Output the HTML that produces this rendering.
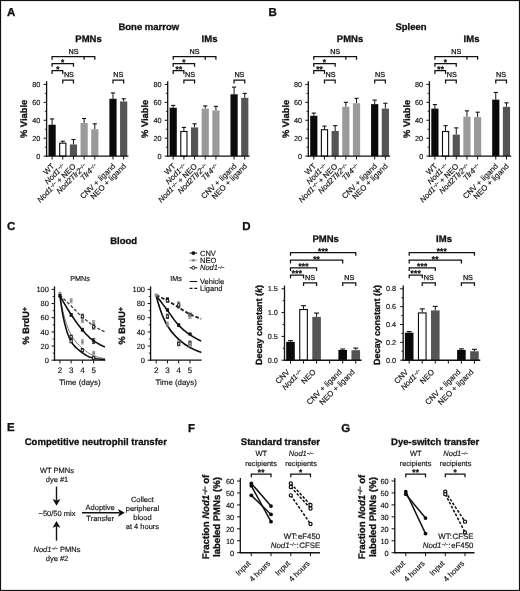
<!DOCTYPE html>
<html><head><meta charset="utf-8"><title>Figure</title>
<style>
html,body{margin:0;padding:0;background:#fff;}
body{width:520px;height:591px;overflow:hidden;font-family:"Liberation Sans",sans-serif;}
svg{display:block;will-change:transform;}
svg text{text-rendering:geometricPrecision;}
</style></head><body>
<svg width="520" height="591" viewBox="0 0 520 591" font-family="'Liberation Sans', sans-serif">
<rect x="0" y="0" width="520" height="591" fill="#fff"/>
<rect x="0.55" y="0.55" width="518.9" height="589.9" fill="none" stroke="#111" stroke-width="1.1"/>
<text x="7.00" y="16.40" font-size="11.5" text-anchor="start" font-weight="bold" font-style="normal" fill="#111" stroke="#111" stroke-width="0.3">A</text>
<text x="148.80" y="30.40" font-size="9.5" text-anchor="middle" font-weight="bold" font-style="normal" fill="#111" stroke="#111" stroke-width="0.3">Bone marrow</text>
<line x1="52.10" y1="124.74" x2="52.10" y2="118.92" stroke="#111" stroke-width="1.0" stroke-linecap="butt"/>
<line x1="50.00" y1="118.92" x2="54.20" y2="118.92" stroke="#111" stroke-width="1.1" stroke-linecap="butt"/>
<line x1="62.78" y1="142.66" x2="62.78" y2="141.23" stroke="#111" stroke-width="1.0" stroke-linecap="butt"/>
<line x1="60.68" y1="141.23" x2="64.88" y2="141.23" stroke="#111" stroke-width="1.1" stroke-linecap="butt"/>
<line x1="73.46" y1="144.45" x2="73.46" y2="139.52" stroke="#111" stroke-width="1.0" stroke-linecap="butt"/>
<line x1="71.36" y1="139.52" x2="75.56" y2="139.52" stroke="#111" stroke-width="1.1" stroke-linecap="butt"/>
<line x1="84.14" y1="122.95" x2="84.14" y2="118.47" stroke="#111" stroke-width="1.0" stroke-linecap="butt"/>
<line x1="82.04" y1="118.47" x2="86.24" y2="118.47" stroke="#111" stroke-width="1.1" stroke-linecap="butt"/>
<line x1="94.82" y1="129.22" x2="94.82" y2="123.84" stroke="#111" stroke-width="1.0" stroke-linecap="butt"/>
<line x1="92.72" y1="123.84" x2="96.92" y2="123.84" stroke="#111" stroke-width="1.1" stroke-linecap="butt"/>
<line x1="112.98" y1="98.76" x2="112.98" y2="92.93" stroke="#111" stroke-width="1.0" stroke-linecap="butt"/>
<line x1="110.88" y1="92.93" x2="115.08" y2="92.93" stroke="#111" stroke-width="1.1" stroke-linecap="butt"/>
<line x1="123.66" y1="101.44" x2="123.66" y2="98.76" stroke="#111" stroke-width="1.0" stroke-linecap="butt"/>
<line x1="121.56" y1="98.76" x2="125.76" y2="98.76" stroke="#111" stroke-width="1.1" stroke-linecap="butt"/>
<rect x="48.50" y="124.74" width="7.20" height="31.36" fill="#0a0a0a" stroke="none" stroke-width="1.0"/>
<rect x="59.68" y="143.16" width="6.20" height="12.94" fill="#fff" stroke="#0a0a0a" stroke-width="1.1"/>
<rect x="69.86" y="144.45" width="7.20" height="11.65" fill="#555555" stroke="none" stroke-width="1.0"/>
<rect x="80.54" y="122.95" width="7.20" height="33.15" fill="#9a9a9a" stroke="none" stroke-width="1.0"/>
<rect x="91.22" y="129.22" width="7.20" height="26.88" fill="#9a9a9a" stroke="none" stroke-width="1.0"/>
<rect x="109.38" y="98.76" width="7.20" height="57.34" fill="#0a0a0a" stroke="none" stroke-width="1.0"/>
<rect x="120.06" y="101.44" width="7.20" height="54.66" fill="#555555" stroke="none" stroke-width="1.0"/>
<line x1="46.00" y1="156.10" x2="128.46" y2="156.10" stroke="#111" stroke-width="1.4" stroke-linecap="butt"/>
<line x1="52.10" y1="156.10" x2="52.10" y2="159.50" stroke="#111" stroke-width="1.0" stroke-linecap="butt"/>
<line x1="62.78" y1="156.10" x2="62.78" y2="159.50" stroke="#111" stroke-width="1.0" stroke-linecap="butt"/>
<line x1="73.46" y1="156.10" x2="73.46" y2="159.50" stroke="#111" stroke-width="1.0" stroke-linecap="butt"/>
<line x1="84.14" y1="156.10" x2="84.14" y2="159.50" stroke="#111" stroke-width="1.0" stroke-linecap="butt"/>
<line x1="94.82" y1="156.10" x2="94.82" y2="159.50" stroke="#111" stroke-width="1.0" stroke-linecap="butt"/>
<line x1="112.98" y1="156.10" x2="112.98" y2="159.50" stroke="#111" stroke-width="1.0" stroke-linecap="butt"/>
<line x1="123.66" y1="156.10" x2="123.66" y2="159.50" stroke="#111" stroke-width="1.0" stroke-linecap="butt"/>
<line x1="46.60" y1="156.70" x2="46.60" y2="81.22" stroke="#111" stroke-width="1.3" stroke-linecap="butt"/>
<line x1="43.60" y1="156.10" x2="46.60" y2="156.10" stroke="#111" stroke-width="1.0" stroke-linecap="butt"/>
<text x="40.40" y="158.73" font-size="7.3" text-anchor="end" font-weight="normal" font-style="normal" fill="#111" stroke="#111" stroke-width="0.15">0</text>
<line x1="44.80" y1="147.14" x2="46.60" y2="147.14" stroke="#111" stroke-width="0.9" stroke-linecap="butt"/>
<line x1="43.60" y1="138.18" x2="46.60" y2="138.18" stroke="#111" stroke-width="1.0" stroke-linecap="butt"/>
<text x="40.40" y="140.81" font-size="7.3" text-anchor="end" font-weight="normal" font-style="normal" fill="#111" stroke="#111" stroke-width="0.15">20</text>
<line x1="44.80" y1="129.22" x2="46.60" y2="129.22" stroke="#111" stroke-width="0.9" stroke-linecap="butt"/>
<line x1="43.60" y1="120.26" x2="46.60" y2="120.26" stroke="#111" stroke-width="1.0" stroke-linecap="butt"/>
<text x="40.40" y="122.89" font-size="7.3" text-anchor="end" font-weight="normal" font-style="normal" fill="#111" stroke="#111" stroke-width="0.15">40</text>
<line x1="44.80" y1="111.30" x2="46.60" y2="111.30" stroke="#111" stroke-width="0.9" stroke-linecap="butt"/>
<line x1="43.60" y1="102.34" x2="46.60" y2="102.34" stroke="#111" stroke-width="1.0" stroke-linecap="butt"/>
<text x="40.40" y="104.97" font-size="7.3" text-anchor="end" font-weight="normal" font-style="normal" fill="#111" stroke="#111" stroke-width="0.15">60</text>
<line x1="44.80" y1="93.38" x2="46.60" y2="93.38" stroke="#111" stroke-width="0.9" stroke-linecap="butt"/>
<line x1="43.60" y1="84.42" x2="46.60" y2="84.42" stroke="#111" stroke-width="1.0" stroke-linecap="butt"/>
<text x="40.40" y="87.05" font-size="7.3" text-anchor="end" font-weight="normal" font-style="normal" fill="#111" stroke="#111" stroke-width="0.15">80</text>
<text x="55.00" y="166.70" font-size="7.8" text-anchor="end" font-weight="normal" font-style="normal" fill="#111" transform="rotate(-45 55.00 166.70)" stroke="#111" stroke-width="0.15">WT</text>
<text x="65.68" y="166.70" font-size="7.8" text-anchor="end" font-weight="normal" font-style="normal" fill="#111" transform="rotate(-45 65.68 166.70)" stroke="#111" stroke-width="0.15"><tspan font-style="italic">Nod1</tspan><tspan font-style="italic" font-size="60%" dy="-0.42em">−/−</tspan></text>
<text x="76.36" y="166.70" font-size="7.8" text-anchor="end" font-weight="normal" font-style="normal" fill="#111" transform="rotate(-45 76.36 166.70)" stroke="#111" stroke-width="0.15"><tspan font-style="italic">Nod1</tspan><tspan font-style="italic" font-size="60%" dy="-0.42em">−/−</tspan><tspan dy="0.25em"> + NEO</tspan></text>
<text x="87.04" y="166.70" font-size="7.8" text-anchor="end" font-weight="normal" font-style="normal" fill="#111" transform="rotate(-45 87.04 166.70)" stroke="#111" stroke-width="0.15"><tspan font-style="italic">Nod2Tlr2</tspan><tspan font-style="italic" font-size="60%" dy="-0.42em">−/−</tspan></text>
<text x="97.72" y="166.70" font-size="7.8" text-anchor="end" font-weight="normal" font-style="normal" fill="#111" transform="rotate(-45 97.72 166.70)" stroke="#111" stroke-width="0.15"><tspan font-style="italic">Tlr4</tspan><tspan font-style="italic" font-size="60%" dy="-0.42em">−/−</tspan></text>
<text x="115.88" y="166.70" font-size="7.8" text-anchor="end" font-weight="normal" font-style="normal" fill="#111" transform="rotate(-45 115.88 166.70)" stroke="#111" stroke-width="0.15">CNV + ligand</text>
<text x="126.56" y="166.70" font-size="7.8" text-anchor="end" font-weight="normal" font-style="normal" fill="#111" transform="rotate(-45 126.56 166.70)" stroke="#111" stroke-width="0.15">NEO + ligand</text>
<text x="27.10" y="118.86" font-size="9.4" text-anchor="middle" font-weight="bold" font-style="normal" fill="#111" transform="rotate(-90 27.10 118.86)" stroke="#111" stroke-width="0.3">% Viable</text>
<text x="88.50" y="42.30" font-size="9.5" text-anchor="middle" font-weight="bold" font-style="normal" fill="#111" stroke="#111" stroke-width="0.3">PMNs</text>
<path d="M52.10,59.80 L52.10,56.60 L94.82,56.60 L94.82,59.80" stroke="#111" stroke-width="1.25" fill="none" stroke-linejoin="miter"/>
<line x1="84.14" y1="56.60" x2="84.14" y2="59.80" stroke="#111" stroke-width="1.25" stroke-linecap="butt"/>
<text x="73.46" y="53.50" font-size="7.2" text-anchor="middle" font-weight="normal" font-style="normal" fill="#111" stroke="#111" stroke-width="0.25">NS</text>
<path d="M52.10,66.80 L52.10,63.60 L73.46,63.60 L73.46,66.80" stroke="#111" stroke-width="1.25" fill="none" stroke-linejoin="miter"/>
<text x="62.78" y="65.00" font-size="8.2" text-anchor="middle" font-weight="bold" font-style="normal" fill="#111" letter-spacing="0.25" stroke="#111" stroke-width="0.3">*</text>
<path d="M52.10,73.90 L52.10,70.70 L62.78,70.70 L62.78,73.90" stroke="#111" stroke-width="1.25" fill="none" stroke-linejoin="miter"/>
<text x="57.94" y="72.10" font-size="8.2" text-anchor="middle" font-weight="bold" font-style="normal" fill="#111" letter-spacing="0.25" stroke="#111" stroke-width="0.3">*</text>
<path d="M62.78,83.40 L62.78,80.20 L73.46,80.20 L73.46,83.40" stroke="#111" stroke-width="1.25" fill="none" stroke-linejoin="miter"/>
<text x="68.92" y="77.10" font-size="7.2" text-anchor="middle" font-weight="normal" font-style="normal" fill="#111" stroke="#111" stroke-width="0.25">NS</text>
<path d="M112.98,83.40 L112.98,80.20 L123.66,80.20 L123.66,83.40" stroke="#111" stroke-width="1.25" fill="none" stroke-linejoin="miter"/>
<text x="118.32" y="77.10" font-size="7.2" text-anchor="middle" font-weight="normal" font-style="normal" fill="#111" stroke="#111" stroke-width="0.25">NS</text>
<line x1="173.20" y1="107.72" x2="173.20" y2="105.39" stroke="#111" stroke-width="1.0" stroke-linecap="butt"/>
<line x1="171.10" y1="105.39" x2="175.30" y2="105.39" stroke="#111" stroke-width="1.1" stroke-linecap="butt"/>
<line x1="183.88" y1="131.01" x2="183.88" y2="127.43" stroke="#111" stroke-width="1.0" stroke-linecap="butt"/>
<line x1="181.78" y1="127.43" x2="185.98" y2="127.43" stroke="#111" stroke-width="1.1" stroke-linecap="butt"/>
<line x1="194.56" y1="127.43" x2="194.56" y2="123.84" stroke="#111" stroke-width="1.0" stroke-linecap="butt"/>
<line x1="192.46" y1="123.84" x2="196.66" y2="123.84" stroke="#111" stroke-width="1.1" stroke-linecap="butt"/>
<line x1="205.24" y1="108.61" x2="205.24" y2="105.92" stroke="#111" stroke-width="1.0" stroke-linecap="butt"/>
<line x1="203.14" y1="105.92" x2="207.34" y2="105.92" stroke="#111" stroke-width="1.1" stroke-linecap="butt"/>
<line x1="215.92" y1="110.40" x2="215.92" y2="106.37" stroke="#111" stroke-width="1.0" stroke-linecap="butt"/>
<line x1="213.82" y1="106.37" x2="218.02" y2="106.37" stroke="#111" stroke-width="1.1" stroke-linecap="butt"/>
<line x1="234.08" y1="94.28" x2="234.08" y2="87.11" stroke="#111" stroke-width="1.0" stroke-linecap="butt"/>
<line x1="231.98" y1="87.11" x2="236.18" y2="87.11" stroke="#111" stroke-width="1.1" stroke-linecap="butt"/>
<line x1="244.76" y1="97.86" x2="244.76" y2="93.38" stroke="#111" stroke-width="1.0" stroke-linecap="butt"/>
<line x1="242.66" y1="93.38" x2="246.86" y2="93.38" stroke="#111" stroke-width="1.1" stroke-linecap="butt"/>
<rect x="169.60" y="107.72" width="7.20" height="48.38" fill="#0a0a0a" stroke="none" stroke-width="1.0"/>
<rect x="180.78" y="131.51" width="6.20" height="24.59" fill="#fff" stroke="#0a0a0a" stroke-width="1.1"/>
<rect x="190.96" y="127.43" width="7.20" height="28.67" fill="#555555" stroke="none" stroke-width="1.0"/>
<rect x="201.64" y="108.61" width="7.20" height="47.49" fill="#9a9a9a" stroke="none" stroke-width="1.0"/>
<rect x="212.32" y="110.40" width="7.20" height="45.70" fill="#9a9a9a" stroke="none" stroke-width="1.0"/>
<rect x="230.48" y="94.28" width="7.20" height="61.82" fill="#0a0a0a" stroke="none" stroke-width="1.0"/>
<rect x="241.16" y="97.86" width="7.20" height="58.24" fill="#555555" stroke="none" stroke-width="1.0"/>
<line x1="167.10" y1="156.10" x2="249.56" y2="156.10" stroke="#111" stroke-width="1.4" stroke-linecap="butt"/>
<line x1="173.20" y1="156.10" x2="173.20" y2="159.50" stroke="#111" stroke-width="1.0" stroke-linecap="butt"/>
<line x1="183.88" y1="156.10" x2="183.88" y2="159.50" stroke="#111" stroke-width="1.0" stroke-linecap="butt"/>
<line x1="194.56" y1="156.10" x2="194.56" y2="159.50" stroke="#111" stroke-width="1.0" stroke-linecap="butt"/>
<line x1="205.24" y1="156.10" x2="205.24" y2="159.50" stroke="#111" stroke-width="1.0" stroke-linecap="butt"/>
<line x1="215.92" y1="156.10" x2="215.92" y2="159.50" stroke="#111" stroke-width="1.0" stroke-linecap="butt"/>
<line x1="234.08" y1="156.10" x2="234.08" y2="159.50" stroke="#111" stroke-width="1.0" stroke-linecap="butt"/>
<line x1="244.76" y1="156.10" x2="244.76" y2="159.50" stroke="#111" stroke-width="1.0" stroke-linecap="butt"/>
<line x1="167.70" y1="156.70" x2="167.70" y2="81.22" stroke="#111" stroke-width="1.3" stroke-linecap="butt"/>
<line x1="164.70" y1="156.10" x2="167.70" y2="156.10" stroke="#111" stroke-width="1.0" stroke-linecap="butt"/>
<text x="161.50" y="158.73" font-size="7.3" text-anchor="end" font-weight="normal" font-style="normal" fill="#111" stroke="#111" stroke-width="0.15">0</text>
<line x1="165.90" y1="147.14" x2="167.70" y2="147.14" stroke="#111" stroke-width="0.9" stroke-linecap="butt"/>
<line x1="164.70" y1="138.18" x2="167.70" y2="138.18" stroke="#111" stroke-width="1.0" stroke-linecap="butt"/>
<text x="161.50" y="140.81" font-size="7.3" text-anchor="end" font-weight="normal" font-style="normal" fill="#111" stroke="#111" stroke-width="0.15">20</text>
<line x1="165.90" y1="129.22" x2="167.70" y2="129.22" stroke="#111" stroke-width="0.9" stroke-linecap="butt"/>
<line x1="164.70" y1="120.26" x2="167.70" y2="120.26" stroke="#111" stroke-width="1.0" stroke-linecap="butt"/>
<text x="161.50" y="122.89" font-size="7.3" text-anchor="end" font-weight="normal" font-style="normal" fill="#111" stroke="#111" stroke-width="0.15">40</text>
<line x1="165.90" y1="111.30" x2="167.70" y2="111.30" stroke="#111" stroke-width="0.9" stroke-linecap="butt"/>
<line x1="164.70" y1="102.34" x2="167.70" y2="102.34" stroke="#111" stroke-width="1.0" stroke-linecap="butt"/>
<text x="161.50" y="104.97" font-size="7.3" text-anchor="end" font-weight="normal" font-style="normal" fill="#111" stroke="#111" stroke-width="0.15">60</text>
<line x1="165.90" y1="93.38" x2="167.70" y2="93.38" stroke="#111" stroke-width="0.9" stroke-linecap="butt"/>
<line x1="164.70" y1="84.42" x2="167.70" y2="84.42" stroke="#111" stroke-width="1.0" stroke-linecap="butt"/>
<text x="161.50" y="87.05" font-size="7.3" text-anchor="end" font-weight="normal" font-style="normal" fill="#111" stroke="#111" stroke-width="0.15">80</text>
<text x="176.10" y="166.70" font-size="7.8" text-anchor="end" font-weight="normal" font-style="normal" fill="#111" transform="rotate(-45 176.10 166.70)" stroke="#111" stroke-width="0.15">WT</text>
<text x="186.78" y="166.70" font-size="7.8" text-anchor="end" font-weight="normal" font-style="normal" fill="#111" transform="rotate(-45 186.78 166.70)" stroke="#111" stroke-width="0.15"><tspan font-style="italic">Nod1</tspan><tspan font-style="italic" font-size="60%" dy="-0.42em">−/−</tspan></text>
<text x="197.46" y="166.70" font-size="7.8" text-anchor="end" font-weight="normal" font-style="normal" fill="#111" transform="rotate(-45 197.46 166.70)" stroke="#111" stroke-width="0.15"><tspan font-style="italic">Nod1</tspan><tspan font-style="italic" font-size="60%" dy="-0.42em">−/−</tspan><tspan dy="0.25em"> + NEO</tspan></text>
<text x="208.14" y="166.70" font-size="7.8" text-anchor="end" font-weight="normal" font-style="normal" fill="#111" transform="rotate(-45 208.14 166.70)" stroke="#111" stroke-width="0.15"><tspan font-style="italic">Nod2Tlr2</tspan><tspan font-style="italic" font-size="60%" dy="-0.42em">−/−</tspan></text>
<text x="218.82" y="166.70" font-size="7.8" text-anchor="end" font-weight="normal" font-style="normal" fill="#111" transform="rotate(-45 218.82 166.70)" stroke="#111" stroke-width="0.15"><tspan font-style="italic">Tlr4</tspan><tspan font-style="italic" font-size="60%" dy="-0.42em">−/−</tspan></text>
<text x="236.98" y="166.70" font-size="7.8" text-anchor="end" font-weight="normal" font-style="normal" fill="#111" transform="rotate(-45 236.98 166.70)" stroke="#111" stroke-width="0.15">CNV + ligand</text>
<text x="247.66" y="166.70" font-size="7.8" text-anchor="end" font-weight="normal" font-style="normal" fill="#111" transform="rotate(-45 247.66 166.70)" stroke="#111" stroke-width="0.15">NEO + ligand</text>
<text x="148.00" y="118.86" font-size="9.4" text-anchor="middle" font-weight="bold" font-style="normal" fill="#111" transform="rotate(-90 148.00 118.86)" stroke="#111" stroke-width="0.3">% Viable</text>
<text x="209.50" y="42.30" font-size="9.5" text-anchor="middle" font-weight="bold" font-style="normal" fill="#111" stroke="#111" stroke-width="0.3">IMs</text>
<path d="M173.20,59.80 L173.20,56.60 L215.92,56.60 L215.92,59.80" stroke="#111" stroke-width="1.25" fill="none" stroke-linejoin="miter"/>
<line x1="205.24" y1="56.60" x2="205.24" y2="59.80" stroke="#111" stroke-width="1.25" stroke-linecap="butt"/>
<text x="194.56" y="53.50" font-size="7.2" text-anchor="middle" font-weight="normal" font-style="normal" fill="#111" stroke="#111" stroke-width="0.25">NS</text>
<path d="M173.20,66.80 L173.20,63.60 L194.56,63.60 L194.56,66.80" stroke="#111" stroke-width="1.25" fill="none" stroke-linejoin="miter"/>
<text x="183.88" y="65.00" font-size="8.2" text-anchor="middle" font-weight="bold" font-style="normal" fill="#111" letter-spacing="0.25" stroke="#111" stroke-width="0.3">*</text>
<path d="M173.20,73.90 L173.20,70.70 L183.88,70.70 L183.88,73.90" stroke="#111" stroke-width="1.25" fill="none" stroke-linejoin="miter"/>
<text x="179.04" y="72.10" font-size="8.2" text-anchor="middle" font-weight="bold" font-style="normal" fill="#111" letter-spacing="0.25" stroke="#111" stroke-width="0.3">**</text>
<path d="M183.88,83.40 L183.88,80.20 L194.56,80.20 L194.56,83.40" stroke="#111" stroke-width="1.25" fill="none" stroke-linejoin="miter"/>
<text x="190.02" y="77.10" font-size="7.2" text-anchor="middle" font-weight="normal" font-style="normal" fill="#111" stroke="#111" stroke-width="0.25">NS</text>
<path d="M234.08,83.40 L234.08,80.20 L244.76,80.20 L244.76,83.40" stroke="#111" stroke-width="1.25" fill="none" stroke-linejoin="miter"/>
<text x="239.42" y="77.10" font-size="7.2" text-anchor="middle" font-weight="normal" font-style="normal" fill="#111" stroke="#111" stroke-width="0.25">NS</text>
<text x="268.50" y="16.40" font-size="11.5" text-anchor="start" font-weight="bold" font-style="normal" fill="#111" stroke="#111" stroke-width="0.3">B</text>
<text x="411.00" y="30.40" font-size="9.5" text-anchor="middle" font-weight="bold" font-style="normal" fill="#111" stroke="#111" stroke-width="0.3">Spleen</text>
<line x1="313.80" y1="115.78" x2="313.80" y2="113.09" stroke="#111" stroke-width="1.0" stroke-linecap="butt"/>
<line x1="311.70" y1="113.09" x2="315.90" y2="113.09" stroke="#111" stroke-width="1.1" stroke-linecap="butt"/>
<line x1="324.48" y1="129.22" x2="324.48" y2="126.08" stroke="#111" stroke-width="1.0" stroke-linecap="butt"/>
<line x1="322.38" y1="126.08" x2="326.58" y2="126.08" stroke="#111" stroke-width="1.1" stroke-linecap="butt"/>
<line x1="335.16" y1="131.01" x2="335.16" y2="125.64" stroke="#111" stroke-width="1.0" stroke-linecap="butt"/>
<line x1="333.06" y1="125.64" x2="337.26" y2="125.64" stroke="#111" stroke-width="1.1" stroke-linecap="butt"/>
<line x1="345.84" y1="106.82" x2="345.84" y2="102.34" stroke="#111" stroke-width="1.0" stroke-linecap="butt"/>
<line x1="343.74" y1="102.34" x2="347.94" y2="102.34" stroke="#111" stroke-width="1.1" stroke-linecap="butt"/>
<line x1="356.52" y1="103.24" x2="356.52" y2="98.31" stroke="#111" stroke-width="1.0" stroke-linecap="butt"/>
<line x1="354.42" y1="98.31" x2="358.62" y2="98.31" stroke="#111" stroke-width="1.1" stroke-linecap="butt"/>
<line x1="374.68" y1="104.13" x2="374.68" y2="100.10" stroke="#111" stroke-width="1.0" stroke-linecap="butt"/>
<line x1="372.58" y1="100.10" x2="376.78" y2="100.10" stroke="#111" stroke-width="1.1" stroke-linecap="butt"/>
<line x1="385.36" y1="108.61" x2="385.36" y2="103.24" stroke="#111" stroke-width="1.0" stroke-linecap="butt"/>
<line x1="383.26" y1="103.24" x2="387.46" y2="103.24" stroke="#111" stroke-width="1.1" stroke-linecap="butt"/>
<rect x="310.20" y="115.78" width="7.20" height="40.32" fill="#0a0a0a" stroke="none" stroke-width="1.0"/>
<rect x="321.38" y="129.72" width="6.20" height="26.38" fill="#fff" stroke="#0a0a0a" stroke-width="1.1"/>
<rect x="331.56" y="131.01" width="7.20" height="25.09" fill="#555555" stroke="none" stroke-width="1.0"/>
<rect x="342.24" y="106.82" width="7.20" height="49.28" fill="#9a9a9a" stroke="none" stroke-width="1.0"/>
<rect x="352.92" y="103.24" width="7.20" height="52.86" fill="#9a9a9a" stroke="none" stroke-width="1.0"/>
<rect x="371.08" y="104.13" width="7.20" height="51.97" fill="#0a0a0a" stroke="none" stroke-width="1.0"/>
<rect x="381.76" y="108.61" width="7.20" height="47.49" fill="#555555" stroke="none" stroke-width="1.0"/>
<line x1="307.70" y1="156.10" x2="390.16" y2="156.10" stroke="#111" stroke-width="1.4" stroke-linecap="butt"/>
<line x1="313.80" y1="156.10" x2="313.80" y2="159.50" stroke="#111" stroke-width="1.0" stroke-linecap="butt"/>
<line x1="324.48" y1="156.10" x2="324.48" y2="159.50" stroke="#111" stroke-width="1.0" stroke-linecap="butt"/>
<line x1="335.16" y1="156.10" x2="335.16" y2="159.50" stroke="#111" stroke-width="1.0" stroke-linecap="butt"/>
<line x1="345.84" y1="156.10" x2="345.84" y2="159.50" stroke="#111" stroke-width="1.0" stroke-linecap="butt"/>
<line x1="356.52" y1="156.10" x2="356.52" y2="159.50" stroke="#111" stroke-width="1.0" stroke-linecap="butt"/>
<line x1="374.68" y1="156.10" x2="374.68" y2="159.50" stroke="#111" stroke-width="1.0" stroke-linecap="butt"/>
<line x1="385.36" y1="156.10" x2="385.36" y2="159.50" stroke="#111" stroke-width="1.0" stroke-linecap="butt"/>
<line x1="308.30" y1="156.70" x2="308.30" y2="81.22" stroke="#111" stroke-width="1.3" stroke-linecap="butt"/>
<line x1="305.30" y1="156.10" x2="308.30" y2="156.10" stroke="#111" stroke-width="1.0" stroke-linecap="butt"/>
<text x="302.10" y="158.73" font-size="7.3" text-anchor="end" font-weight="normal" font-style="normal" fill="#111" stroke="#111" stroke-width="0.15">0</text>
<line x1="306.50" y1="147.14" x2="308.30" y2="147.14" stroke="#111" stroke-width="0.9" stroke-linecap="butt"/>
<line x1="305.30" y1="138.18" x2="308.30" y2="138.18" stroke="#111" stroke-width="1.0" stroke-linecap="butt"/>
<text x="302.10" y="140.81" font-size="7.3" text-anchor="end" font-weight="normal" font-style="normal" fill="#111" stroke="#111" stroke-width="0.15">20</text>
<line x1="306.50" y1="129.22" x2="308.30" y2="129.22" stroke="#111" stroke-width="0.9" stroke-linecap="butt"/>
<line x1="305.30" y1="120.26" x2="308.30" y2="120.26" stroke="#111" stroke-width="1.0" stroke-linecap="butt"/>
<text x="302.10" y="122.89" font-size="7.3" text-anchor="end" font-weight="normal" font-style="normal" fill="#111" stroke="#111" stroke-width="0.15">40</text>
<line x1="306.50" y1="111.30" x2="308.30" y2="111.30" stroke="#111" stroke-width="0.9" stroke-linecap="butt"/>
<line x1="305.30" y1="102.34" x2="308.30" y2="102.34" stroke="#111" stroke-width="1.0" stroke-linecap="butt"/>
<text x="302.10" y="104.97" font-size="7.3" text-anchor="end" font-weight="normal" font-style="normal" fill="#111" stroke="#111" stroke-width="0.15">60</text>
<line x1="306.50" y1="93.38" x2="308.30" y2="93.38" stroke="#111" stroke-width="0.9" stroke-linecap="butt"/>
<line x1="305.30" y1="84.42" x2="308.30" y2="84.42" stroke="#111" stroke-width="1.0" stroke-linecap="butt"/>
<text x="302.10" y="87.05" font-size="7.3" text-anchor="end" font-weight="normal" font-style="normal" fill="#111" stroke="#111" stroke-width="0.15">80</text>
<text x="316.70" y="166.70" font-size="7.8" text-anchor="end" font-weight="normal" font-style="normal" fill="#111" transform="rotate(-45 316.70 166.70)" stroke="#111" stroke-width="0.15">WT</text>
<text x="327.38" y="166.70" font-size="7.8" text-anchor="end" font-weight="normal" font-style="normal" fill="#111" transform="rotate(-45 327.38 166.70)" stroke="#111" stroke-width="0.15"><tspan font-style="italic">Nod1</tspan><tspan font-style="italic" font-size="60%" dy="-0.42em">−/−</tspan></text>
<text x="338.06" y="166.70" font-size="7.8" text-anchor="end" font-weight="normal" font-style="normal" fill="#111" transform="rotate(-45 338.06 166.70)" stroke="#111" stroke-width="0.15"><tspan font-style="italic">Nod1</tspan><tspan font-style="italic" font-size="60%" dy="-0.42em">−/−</tspan><tspan dy="0.25em"> + NEO</tspan></text>
<text x="348.74" y="166.70" font-size="7.8" text-anchor="end" font-weight="normal" font-style="normal" fill="#111" transform="rotate(-45 348.74 166.70)" stroke="#111" stroke-width="0.15"><tspan font-style="italic">Nod2Tlr2</tspan><tspan font-style="italic" font-size="60%" dy="-0.42em">−/−</tspan></text>
<text x="359.42" y="166.70" font-size="7.8" text-anchor="end" font-weight="normal" font-style="normal" fill="#111" transform="rotate(-45 359.42 166.70)" stroke="#111" stroke-width="0.15"><tspan font-style="italic">Tlr4</tspan><tspan font-style="italic" font-size="60%" dy="-0.42em">−/−</tspan></text>
<text x="377.58" y="166.70" font-size="7.8" text-anchor="end" font-weight="normal" font-style="normal" fill="#111" transform="rotate(-45 377.58 166.70)" stroke="#111" stroke-width="0.15">CNV + ligand</text>
<text x="388.26" y="166.70" font-size="7.8" text-anchor="end" font-weight="normal" font-style="normal" fill="#111" transform="rotate(-45 388.26 166.70)" stroke="#111" stroke-width="0.15">NEO + ligand</text>
<text x="288.80" y="118.86" font-size="9.4" text-anchor="middle" font-weight="bold" font-style="normal" fill="#111" transform="rotate(-90 288.80 118.86)" stroke="#111" stroke-width="0.3">% Viable</text>
<text x="350.00" y="42.30" font-size="9.5" text-anchor="middle" font-weight="bold" font-style="normal" fill="#111" stroke="#111" stroke-width="0.3">PMNs</text>
<path d="M313.80,59.80 L313.80,56.60 L356.52,56.60 L356.52,59.80" stroke="#111" stroke-width="1.25" fill="none" stroke-linejoin="miter"/>
<line x1="345.84" y1="56.60" x2="345.84" y2="59.80" stroke="#111" stroke-width="1.25" stroke-linecap="butt"/>
<text x="335.16" y="53.50" font-size="7.2" text-anchor="middle" font-weight="normal" font-style="normal" fill="#111" stroke="#111" stroke-width="0.25">NS</text>
<path d="M313.80,66.80 L313.80,63.60 L335.16,63.60 L335.16,66.80" stroke="#111" stroke-width="1.25" fill="none" stroke-linejoin="miter"/>
<text x="324.48" y="65.00" font-size="8.2" text-anchor="middle" font-weight="bold" font-style="normal" fill="#111" letter-spacing="0.25" stroke="#111" stroke-width="0.3">*</text>
<path d="M313.80,73.90 L313.80,70.70 L324.48,70.70 L324.48,73.90" stroke="#111" stroke-width="1.25" fill="none" stroke-linejoin="miter"/>
<text x="319.64" y="72.10" font-size="8.2" text-anchor="middle" font-weight="bold" font-style="normal" fill="#111" letter-spacing="0.25" stroke="#111" stroke-width="0.3">**</text>
<path d="M324.48,83.40 L324.48,80.20 L335.16,80.20 L335.16,83.40" stroke="#111" stroke-width="1.25" fill="none" stroke-linejoin="miter"/>
<text x="330.62" y="77.10" font-size="7.2" text-anchor="middle" font-weight="normal" font-style="normal" fill="#111" stroke="#111" stroke-width="0.25">NS</text>
<path d="M374.68,83.40 L374.68,80.20 L385.36,80.20 L385.36,83.40" stroke="#111" stroke-width="1.25" fill="none" stroke-linejoin="miter"/>
<text x="380.02" y="77.10" font-size="7.2" text-anchor="middle" font-weight="normal" font-style="normal" fill="#111" stroke="#111" stroke-width="0.25">NS</text>
<line x1="434.90" y1="108.61" x2="434.90" y2="104.58" stroke="#111" stroke-width="1.0" stroke-linecap="butt"/>
<line x1="432.80" y1="104.58" x2="437.00" y2="104.58" stroke="#111" stroke-width="1.1" stroke-linecap="butt"/>
<line x1="445.58" y1="131.01" x2="445.58" y2="125.64" stroke="#111" stroke-width="1.0" stroke-linecap="butt"/>
<line x1="443.48" y1="125.64" x2="447.68" y2="125.64" stroke="#111" stroke-width="1.1" stroke-linecap="butt"/>
<line x1="456.26" y1="134.60" x2="456.26" y2="127.88" stroke="#111" stroke-width="1.0" stroke-linecap="butt"/>
<line x1="454.16" y1="127.88" x2="458.36" y2="127.88" stroke="#111" stroke-width="1.1" stroke-linecap="butt"/>
<line x1="466.94" y1="116.68" x2="466.94" y2="110.85" stroke="#111" stroke-width="1.0" stroke-linecap="butt"/>
<line x1="464.84" y1="110.85" x2="469.04" y2="110.85" stroke="#111" stroke-width="1.1" stroke-linecap="butt"/>
<line x1="477.62" y1="117.12" x2="477.62" y2="112.20" stroke="#111" stroke-width="1.0" stroke-linecap="butt"/>
<line x1="475.52" y1="112.20" x2="479.72" y2="112.20" stroke="#111" stroke-width="1.1" stroke-linecap="butt"/>
<line x1="495.78" y1="99.65" x2="495.78" y2="92.48" stroke="#111" stroke-width="1.0" stroke-linecap="butt"/>
<line x1="493.68" y1="92.48" x2="497.88" y2="92.48" stroke="#111" stroke-width="1.1" stroke-linecap="butt"/>
<line x1="506.46" y1="106.82" x2="506.46" y2="102.79" stroke="#111" stroke-width="1.0" stroke-linecap="butt"/>
<line x1="504.36" y1="102.79" x2="508.56" y2="102.79" stroke="#111" stroke-width="1.1" stroke-linecap="butt"/>
<rect x="431.30" y="108.61" width="7.20" height="47.49" fill="#0a0a0a" stroke="none" stroke-width="1.0"/>
<rect x="442.48" y="131.51" width="6.20" height="24.59" fill="#fff" stroke="#0a0a0a" stroke-width="1.1"/>
<rect x="452.66" y="134.60" width="7.20" height="21.50" fill="#555555" stroke="none" stroke-width="1.0"/>
<rect x="463.34" y="116.68" width="7.20" height="39.42" fill="#9a9a9a" stroke="none" stroke-width="1.0"/>
<rect x="474.02" y="117.12" width="7.20" height="38.98" fill="#9a9a9a" stroke="none" stroke-width="1.0"/>
<rect x="492.18" y="99.65" width="7.20" height="56.45" fill="#0a0a0a" stroke="none" stroke-width="1.0"/>
<rect x="502.86" y="106.82" width="7.20" height="49.28" fill="#555555" stroke="none" stroke-width="1.0"/>
<line x1="428.80" y1="156.10" x2="511.26" y2="156.10" stroke="#111" stroke-width="1.4" stroke-linecap="butt"/>
<line x1="434.90" y1="156.10" x2="434.90" y2="159.50" stroke="#111" stroke-width="1.0" stroke-linecap="butt"/>
<line x1="445.58" y1="156.10" x2="445.58" y2="159.50" stroke="#111" stroke-width="1.0" stroke-linecap="butt"/>
<line x1="456.26" y1="156.10" x2="456.26" y2="159.50" stroke="#111" stroke-width="1.0" stroke-linecap="butt"/>
<line x1="466.94" y1="156.10" x2="466.94" y2="159.50" stroke="#111" stroke-width="1.0" stroke-linecap="butt"/>
<line x1="477.62" y1="156.10" x2="477.62" y2="159.50" stroke="#111" stroke-width="1.0" stroke-linecap="butt"/>
<line x1="495.78" y1="156.10" x2="495.78" y2="159.50" stroke="#111" stroke-width="1.0" stroke-linecap="butt"/>
<line x1="506.46" y1="156.10" x2="506.46" y2="159.50" stroke="#111" stroke-width="1.0" stroke-linecap="butt"/>
<line x1="429.40" y1="156.70" x2="429.40" y2="81.22" stroke="#111" stroke-width="1.3" stroke-linecap="butt"/>
<line x1="426.40" y1="156.10" x2="429.40" y2="156.10" stroke="#111" stroke-width="1.0" stroke-linecap="butt"/>
<text x="423.20" y="158.73" font-size="7.3" text-anchor="end" font-weight="normal" font-style="normal" fill="#111" stroke="#111" stroke-width="0.15">0</text>
<line x1="427.60" y1="147.14" x2="429.40" y2="147.14" stroke="#111" stroke-width="0.9" stroke-linecap="butt"/>
<line x1="426.40" y1="138.18" x2="429.40" y2="138.18" stroke="#111" stroke-width="1.0" stroke-linecap="butt"/>
<text x="423.20" y="140.81" font-size="7.3" text-anchor="end" font-weight="normal" font-style="normal" fill="#111" stroke="#111" stroke-width="0.15">20</text>
<line x1="427.60" y1="129.22" x2="429.40" y2="129.22" stroke="#111" stroke-width="0.9" stroke-linecap="butt"/>
<line x1="426.40" y1="120.26" x2="429.40" y2="120.26" stroke="#111" stroke-width="1.0" stroke-linecap="butt"/>
<text x="423.20" y="122.89" font-size="7.3" text-anchor="end" font-weight="normal" font-style="normal" fill="#111" stroke="#111" stroke-width="0.15">40</text>
<line x1="427.60" y1="111.30" x2="429.40" y2="111.30" stroke="#111" stroke-width="0.9" stroke-linecap="butt"/>
<line x1="426.40" y1="102.34" x2="429.40" y2="102.34" stroke="#111" stroke-width="1.0" stroke-linecap="butt"/>
<text x="423.20" y="104.97" font-size="7.3" text-anchor="end" font-weight="normal" font-style="normal" fill="#111" stroke="#111" stroke-width="0.15">60</text>
<line x1="427.60" y1="93.38" x2="429.40" y2="93.38" stroke="#111" stroke-width="0.9" stroke-linecap="butt"/>
<line x1="426.40" y1="84.42" x2="429.40" y2="84.42" stroke="#111" stroke-width="1.0" stroke-linecap="butt"/>
<text x="423.20" y="87.05" font-size="7.3" text-anchor="end" font-weight="normal" font-style="normal" fill="#111" stroke="#111" stroke-width="0.15">80</text>
<text x="437.80" y="166.70" font-size="7.8" text-anchor="end" font-weight="normal" font-style="normal" fill="#111" transform="rotate(-45 437.80 166.70)" stroke="#111" stroke-width="0.15">WT</text>
<text x="448.48" y="166.70" font-size="7.8" text-anchor="end" font-weight="normal" font-style="normal" fill="#111" transform="rotate(-45 448.48 166.70)" stroke="#111" stroke-width="0.15"><tspan font-style="italic">Nod1</tspan><tspan font-style="italic" font-size="60%" dy="-0.42em">−/−</tspan></text>
<text x="459.16" y="166.70" font-size="7.8" text-anchor="end" font-weight="normal" font-style="normal" fill="#111" transform="rotate(-45 459.16 166.70)" stroke="#111" stroke-width="0.15"><tspan font-style="italic">Nod1</tspan><tspan font-style="italic" font-size="60%" dy="-0.42em">−/−</tspan><tspan dy="0.25em"> + NEO</tspan></text>
<text x="469.84" y="166.70" font-size="7.8" text-anchor="end" font-weight="normal" font-style="normal" fill="#111" transform="rotate(-45 469.84 166.70)" stroke="#111" stroke-width="0.15"><tspan font-style="italic">Nod2Tlr2</tspan><tspan font-style="italic" font-size="60%" dy="-0.42em">−/−</tspan></text>
<text x="480.52" y="166.70" font-size="7.8" text-anchor="end" font-weight="normal" font-style="normal" fill="#111" transform="rotate(-45 480.52 166.70)" stroke="#111" stroke-width="0.15"><tspan font-style="italic">Tlr4</tspan><tspan font-style="italic" font-size="60%" dy="-0.42em">−/−</tspan></text>
<text x="498.68" y="166.70" font-size="7.8" text-anchor="end" font-weight="normal" font-style="normal" fill="#111" transform="rotate(-45 498.68 166.70)" stroke="#111" stroke-width="0.15">CNV + ligand</text>
<text x="509.36" y="166.70" font-size="7.8" text-anchor="end" font-weight="normal" font-style="normal" fill="#111" transform="rotate(-45 509.36 166.70)" stroke="#111" stroke-width="0.15">NEO + ligand</text>
<text x="410.00" y="118.86" font-size="9.4" text-anchor="middle" font-weight="bold" font-style="normal" fill="#111" transform="rotate(-90 410.00 118.86)" stroke="#111" stroke-width="0.3">% Viable</text>
<text x="471.50" y="42.30" font-size="9.5" text-anchor="middle" font-weight="bold" font-style="normal" fill="#111" stroke="#111" stroke-width="0.3">IMs</text>
<path d="M434.90,59.80 L434.90,56.60 L477.62,56.60 L477.62,59.80" stroke="#111" stroke-width="1.25" fill="none" stroke-linejoin="miter"/>
<line x1="466.94" y1="56.60" x2="466.94" y2="59.80" stroke="#111" stroke-width="1.25" stroke-linecap="butt"/>
<text x="456.26" y="53.50" font-size="7.2" text-anchor="middle" font-weight="normal" font-style="normal" fill="#111" stroke="#111" stroke-width="0.25">NS</text>
<path d="M434.90,66.80 L434.90,63.60 L456.26,63.60 L456.26,66.80" stroke="#111" stroke-width="1.25" fill="none" stroke-linejoin="miter"/>
<text x="445.58" y="65.00" font-size="8.2" text-anchor="middle" font-weight="bold" font-style="normal" fill="#111" letter-spacing="0.25" stroke="#111" stroke-width="0.3">*</text>
<path d="M434.90,73.90 L434.90,70.70 L445.58,70.70 L445.58,73.90" stroke="#111" stroke-width="1.25" fill="none" stroke-linejoin="miter"/>
<text x="440.74" y="72.10" font-size="8.2" text-anchor="middle" font-weight="bold" font-style="normal" fill="#111" letter-spacing="0.25" stroke="#111" stroke-width="0.3">**</text>
<path d="M445.58,83.40 L445.58,80.20 L456.26,80.20 L456.26,83.40" stroke="#111" stroke-width="1.25" fill="none" stroke-linejoin="miter"/>
<text x="451.72" y="77.10" font-size="7.2" text-anchor="middle" font-weight="normal" font-style="normal" fill="#111" stroke="#111" stroke-width="0.25">NS</text>
<path d="M495.78,83.40 L495.78,80.20 L506.46,80.20 L506.46,83.40" stroke="#111" stroke-width="1.25" fill="none" stroke-linejoin="miter"/>
<text x="501.12" y="77.10" font-size="7.2" text-anchor="middle" font-weight="normal" font-style="normal" fill="#111" stroke="#111" stroke-width="0.25">NS</text>
<text x="7.00" y="230.30" font-size="11.5" text-anchor="start" font-weight="bold" font-style="normal" fill="#111" stroke="#111" stroke-width="0.3">C</text>
<text x="123.70" y="244.10" font-size="9.5" text-anchor="middle" font-weight="bold" font-style="normal" fill="#111" stroke="#111" stroke-width="0.3">Blood</text>
<path d="M59.9,295.1 L61.5,296.6 L63.1,298.2 L64.7,299.7 L66.3,301.3 L67.9,302.9 L69.5,304.5 L71.2,306.0 L72.8,307.6 L74.4,309.3 L76.0,310.9 L77.6,312.5 L79.2,314.1 L80.8,315.6 L82.4,317.0 L84.0,318.4 L85.6,319.8 L87.2,321.1 L88.8,322.4 L90.4,323.6 L92.0,324.8 L93.7,325.9 L95.3,326.9 L96.9,327.8 L98.5,328.7 L100.1,329.6 L101.7,330.4 L103.3,331.2 L104.9,331.9" stroke="#3a3a3a" stroke-width="1.3" fill="none" stroke-linejoin="round" stroke-dasharray="3.2 1.8"/>
<path d="M59.9,295.8 L61.5,304.6 L63.1,312.0 L64.7,318.2 L66.3,323.5 L67.9,328.0 L69.5,331.8 L71.2,335.1 L72.8,337.8 L74.4,340.1 L76.0,342.0 L77.6,343.8 L79.2,345.4 L80.8,346.9 L82.4,348.3 L84.0,349.7 L85.6,350.9 L87.2,352.1 L88.8,353.1 L90.4,354.1 L92.0,354.9 L93.7,355.6 L95.3,356.2 L96.9,356.8 L98.5,357.3 L100.1,357.7 L101.7,358.0 L103.3,358.4 L104.9,358.6" stroke="#777" stroke-width="1.0" fill="none" stroke-linejoin="round"/>
<path d="M59.9,295.8 L61.5,298.6 L63.1,301.4 L64.7,304.2 L66.3,306.9 L67.9,309.5 L69.5,312.0 L71.2,314.5 L72.8,317.0 L74.4,319.4 L76.0,321.7 L77.6,323.9 L79.2,326.0 L80.8,328.1 L82.4,330.0 L84.0,331.8 L85.6,333.6 L87.2,335.2 L88.8,336.8 L90.4,338.3 L92.0,339.6 L93.7,340.8 L95.3,341.9 L96.9,342.9 L98.5,343.8 L100.1,344.7 L101.7,345.5 L103.3,346.3 L104.9,347.0" stroke="#111" stroke-width="1.6" fill="none" stroke-linejoin="round"/>
<path d="M59.9,295.8 L61.5,307.2 L63.1,316.3 L64.7,323.6 L66.3,329.5 L67.9,334.3 L69.5,338.2 L71.2,341.4 L72.8,343.9 L74.4,345.9 L76.0,347.6 L77.6,349.0 L79.2,350.3 L80.8,351.6 L82.4,352.8 L84.0,353.9 L85.6,355.0 L87.2,355.9 L88.8,356.7 L90.4,357.3 L92.0,357.8 L93.7,358.2 L95.3,358.5 L96.9,358.8 L98.5,359.0 L100.1,359.2 L101.7,359.3 L103.3,359.5 L104.9,359.6" stroke="#111" stroke-width="1.6" fill="none" stroke-linejoin="round"/>
<line x1="59.90" y1="295.06" x2="59.90" y2="292.23" stroke="#888" stroke-width="0.8" stroke-linecap="butt"/>
<line x1="58.30" y1="295.06" x2="61.50" y2="295.06" stroke="#888" stroke-width="0.8" stroke-linecap="butt"/>
<line x1="58.30" y1="292.23" x2="61.50" y2="292.23" stroke="#888" stroke-width="0.8" stroke-linecap="butt"/>
<rect x="58.50" y="292.45" width="2.8" height="2.4" fill="#8a8a8a"/>
<line x1="59.90" y1="296.83" x2="59.90" y2="294.71" stroke="#111" stroke-width="0.8" stroke-linecap="butt"/>
<line x1="58.30" y1="296.83" x2="61.50" y2="296.83" stroke="#111" stroke-width="0.8" stroke-linecap="butt"/>
<line x1="58.30" y1="294.71" x2="61.50" y2="294.71" stroke="#111" stroke-width="0.8" stroke-linecap="butt"/>
<rect x="58.40" y="294.27" width="3" height="3" fill="#111"/>
<line x1="71.15" y1="302.85" x2="71.15" y2="298.60" stroke="#888" stroke-width="0.8" stroke-linecap="butt"/>
<line x1="69.55" y1="302.85" x2="72.75" y2="302.85" stroke="#888" stroke-width="0.8" stroke-linecap="butt"/>
<line x1="69.55" y1="298.60" x2="72.75" y2="298.60" stroke="#888" stroke-width="0.8" stroke-linecap="butt"/>
<rect x="69.75" y="299.53" width="2.8" height="2.4" fill="#8a8a8a"/>
<line x1="71.15" y1="316.30" x2="71.15" y2="313.47" stroke="#111" stroke-width="0.8" stroke-linecap="butt"/>
<line x1="69.55" y1="316.30" x2="72.75" y2="316.30" stroke="#111" stroke-width="0.8" stroke-linecap="butt"/>
<line x1="69.55" y1="313.47" x2="72.75" y2="313.47" stroke="#111" stroke-width="0.8" stroke-linecap="butt"/>
<rect x="69.65" y="313.39" width="3" height="3" fill="#111"/>
<line x1="71.15" y1="338.61" x2="71.15" y2="335.07" stroke="#111" stroke-width="0.8" stroke-linecap="butt"/>
<line x1="69.55" y1="338.61" x2="72.75" y2="338.61" stroke="#111" stroke-width="0.8" stroke-linecap="butt"/>
<line x1="69.55" y1="335.07" x2="72.75" y2="335.07" stroke="#111" stroke-width="0.8" stroke-linecap="butt"/>
<rect x="70.00" y="335.69" width="2.3" height="2.3" fill="#fff" stroke="#111" stroke-width="0.85"/>
<line x1="71.15" y1="342.85" x2="71.15" y2="339.31" stroke="#111" stroke-width="0.8" stroke-linecap="butt"/>
<line x1="69.55" y1="342.85" x2="72.75" y2="342.85" stroke="#111" stroke-width="0.8" stroke-linecap="butt"/>
<line x1="69.55" y1="339.31" x2="72.75" y2="339.31" stroke="#111" stroke-width="0.8" stroke-linecap="butt"/>
<rect x="70.00" y="339.93" width="2.3" height="2.3" fill="#fff" stroke="#111" stroke-width="0.85"/>
<line x1="82.40" y1="318.43" x2="82.40" y2="314.18" stroke="#111" stroke-width="0.8" stroke-linecap="butt"/>
<line x1="80.80" y1="318.43" x2="84.00" y2="318.43" stroke="#111" stroke-width="0.8" stroke-linecap="butt"/>
<line x1="80.80" y1="314.18" x2="84.00" y2="314.18" stroke="#111" stroke-width="0.8" stroke-linecap="butt"/>
<rect x="81.25" y="315.15" width="2.3" height="2.3" fill="#fff" stroke="#111" stroke-width="0.85"/>
<line x1="82.40" y1="322.68" x2="82.40" y2="318.43" stroke="#888" stroke-width="0.8" stroke-linecap="butt"/>
<line x1="80.80" y1="322.68" x2="84.00" y2="322.68" stroke="#888" stroke-width="0.8" stroke-linecap="butt"/>
<line x1="80.80" y1="318.43" x2="84.00" y2="318.43" stroke="#888" stroke-width="0.8" stroke-linecap="butt"/>
<rect x="81.00" y="319.35" width="2.8" height="2.4" fill="#8a8a8a"/>
<line x1="82.40" y1="331.17" x2="82.40" y2="328.34" stroke="#111" stroke-width="0.8" stroke-linecap="butt"/>
<line x1="80.80" y1="331.17" x2="84.00" y2="331.17" stroke="#111" stroke-width="0.8" stroke-linecap="butt"/>
<line x1="80.80" y1="328.34" x2="84.00" y2="328.34" stroke="#111" stroke-width="0.8" stroke-linecap="butt"/>
<rect x="80.90" y="328.26" width="3" height="3" fill="#111"/>
<line x1="82.40" y1="343.92" x2="82.40" y2="339.67" stroke="#888" stroke-width="0.8" stroke-linecap="butt"/>
<line x1="80.80" y1="343.92" x2="84.00" y2="343.92" stroke="#888" stroke-width="0.8" stroke-linecap="butt"/>
<line x1="80.80" y1="339.67" x2="84.00" y2="339.67" stroke="#888" stroke-width="0.8" stroke-linecap="butt"/>
<rect x="81.00" y="340.59" width="2.8" height="2.4" fill="#8a8a8a"/>
<line x1="82.40" y1="352.06" x2="82.40" y2="348.52" stroke="#111" stroke-width="0.8" stroke-linecap="butt"/>
<line x1="80.80" y1="352.06" x2="84.00" y2="352.06" stroke="#111" stroke-width="0.8" stroke-linecap="butt"/>
<line x1="80.80" y1="348.52" x2="84.00" y2="348.52" stroke="#111" stroke-width="0.8" stroke-linecap="butt"/>
<rect x="81.25" y="349.14" width="2.3" height="2.3" fill="#fff" stroke="#111" stroke-width="0.85"/>
<line x1="93.65" y1="324.80" x2="93.65" y2="320.55" stroke="#888" stroke-width="0.8" stroke-linecap="butt"/>
<line x1="92.05" y1="324.80" x2="95.25" y2="324.80" stroke="#888" stroke-width="0.8" stroke-linecap="butt"/>
<line x1="92.05" y1="320.55" x2="95.25" y2="320.55" stroke="#888" stroke-width="0.8" stroke-linecap="butt"/>
<rect x="92.25" y="321.48" width="2.8" height="2.4" fill="#8a8a8a"/>
<line x1="93.65" y1="329.05" x2="93.65" y2="324.80" stroke="#111" stroke-width="0.8" stroke-linecap="butt"/>
<line x1="92.05" y1="329.05" x2="95.25" y2="329.05" stroke="#111" stroke-width="0.8" stroke-linecap="butt"/>
<line x1="92.05" y1="324.80" x2="95.25" y2="324.80" stroke="#111" stroke-width="0.8" stroke-linecap="butt"/>
<rect x="92.50" y="325.77" width="2.3" height="2.3" fill="#fff" stroke="#111" stroke-width="0.85"/>
<line x1="93.65" y1="343.56" x2="93.65" y2="338.61" stroke="#111" stroke-width="0.8" stroke-linecap="butt"/>
<line x1="92.05" y1="343.56" x2="95.25" y2="343.56" stroke="#111" stroke-width="0.8" stroke-linecap="butt"/>
<line x1="92.05" y1="338.61" x2="95.25" y2="338.61" stroke="#111" stroke-width="0.8" stroke-linecap="butt"/>
<rect x="92.15" y="339.58" width="3" height="3" fill="#111"/>
<line x1="93.65" y1="354.89" x2="93.65" y2="351.35" stroke="#888" stroke-width="0.8" stroke-linecap="butt"/>
<line x1="92.05" y1="354.89" x2="95.25" y2="354.89" stroke="#888" stroke-width="0.8" stroke-linecap="butt"/>
<line x1="92.05" y1="351.35" x2="95.25" y2="351.35" stroke="#888" stroke-width="0.8" stroke-linecap="butt"/>
<rect x="92.25" y="351.92" width="2.8" height="2.4" fill="#8a8a8a"/>
<line x1="93.65" y1="359.49" x2="93.65" y2="356.66" stroke="#111" stroke-width="0.8" stroke-linecap="butt"/>
<line x1="92.05" y1="359.49" x2="95.25" y2="359.49" stroke="#111" stroke-width="0.8" stroke-linecap="butt"/>
<line x1="92.05" y1="356.66" x2="95.25" y2="356.66" stroke="#111" stroke-width="0.8" stroke-linecap="butt"/>
<rect x="92.50" y="356.93" width="2.3" height="2.3" fill="#fff" stroke="#111" stroke-width="0.85"/>
<line x1="54.50" y1="360.80" x2="54.50" y2="286.40" stroke="#111" stroke-width="1.3" stroke-linecap="butt"/>
<line x1="53.90" y1="360.20" x2="105.30" y2="360.20" stroke="#111" stroke-width="1.3" stroke-linecap="butt"/>
<line x1="51.50" y1="360.20" x2="54.50" y2="360.20" stroke="#111" stroke-width="1.0" stroke-linecap="butt"/>
<text x="48.90" y="362.90" font-size="7.5" text-anchor="end" font-weight="normal" font-style="normal" fill="#111" stroke="#111" stroke-width="0.15">0</text>
<line x1="52.70" y1="353.12" x2="54.50" y2="353.12" stroke="#111" stroke-width="0.9" stroke-linecap="butt"/>
<line x1="51.50" y1="346.04" x2="54.50" y2="346.04" stroke="#111" stroke-width="1.0" stroke-linecap="butt"/>
<text x="48.90" y="348.74" font-size="7.5" text-anchor="end" font-weight="normal" font-style="normal" fill="#111" stroke="#111" stroke-width="0.15">20</text>
<line x1="52.70" y1="338.96" x2="54.50" y2="338.96" stroke="#111" stroke-width="0.9" stroke-linecap="butt"/>
<line x1="51.50" y1="331.88" x2="54.50" y2="331.88" stroke="#111" stroke-width="1.0" stroke-linecap="butt"/>
<text x="48.90" y="334.58" font-size="7.5" text-anchor="end" font-weight="normal" font-style="normal" fill="#111" stroke="#111" stroke-width="0.15">40</text>
<line x1="52.70" y1="324.80" x2="54.50" y2="324.80" stroke="#111" stroke-width="0.9" stroke-linecap="butt"/>
<line x1="51.50" y1="317.72" x2="54.50" y2="317.72" stroke="#111" stroke-width="1.0" stroke-linecap="butt"/>
<text x="48.90" y="320.42" font-size="7.5" text-anchor="end" font-weight="normal" font-style="normal" fill="#111" stroke="#111" stroke-width="0.15">60</text>
<line x1="52.70" y1="310.64" x2="54.50" y2="310.64" stroke="#111" stroke-width="0.9" stroke-linecap="butt"/>
<line x1="51.50" y1="303.56" x2="54.50" y2="303.56" stroke="#111" stroke-width="1.0" stroke-linecap="butt"/>
<text x="48.90" y="306.26" font-size="7.5" text-anchor="end" font-weight="normal" font-style="normal" fill="#111" stroke="#111" stroke-width="0.15">80</text>
<line x1="52.70" y1="296.48" x2="54.50" y2="296.48" stroke="#111" stroke-width="0.9" stroke-linecap="butt"/>
<line x1="51.50" y1="289.40" x2="54.50" y2="289.40" stroke="#111" stroke-width="1.0" stroke-linecap="butt"/>
<text x="48.90" y="292.10" font-size="7.5" text-anchor="end" font-weight="normal" font-style="normal" fill="#111" stroke="#111" stroke-width="0.15">100</text>
<line x1="59.90" y1="360.20" x2="59.90" y2="363.40" stroke="#111" stroke-width="1.0" stroke-linecap="butt"/>
<text x="59.90" y="373.40" font-size="8.0" text-anchor="middle" font-weight="normal" font-style="normal" fill="#111" stroke="#111" stroke-width="0.15">2</text>
<line x1="71.15" y1="360.20" x2="71.15" y2="363.40" stroke="#111" stroke-width="1.0" stroke-linecap="butt"/>
<text x="71.15" y="373.40" font-size="8.0" text-anchor="middle" font-weight="normal" font-style="normal" fill="#111" stroke="#111" stroke-width="0.15">3</text>
<line x1="82.40" y1="360.20" x2="82.40" y2="363.40" stroke="#111" stroke-width="1.0" stroke-linecap="butt"/>
<text x="82.40" y="373.40" font-size="8.0" text-anchor="middle" font-weight="normal" font-style="normal" fill="#111" stroke="#111" stroke-width="0.15">4</text>
<line x1="93.65" y1="360.20" x2="93.65" y2="363.40" stroke="#111" stroke-width="1.0" stroke-linecap="butt"/>
<text x="93.65" y="373.40" font-size="8.0" text-anchor="middle" font-weight="normal" font-style="normal" fill="#111" stroke="#111" stroke-width="0.15">5</text>
<text x="79.92" y="384.70" font-size="7.9" text-anchor="middle" font-weight="normal" font-style="normal" fill="#111" stroke="#111" stroke-width="0.15">Time (days)</text>
<text x="80.00" y="281.10" font-size="7.2" text-anchor="middle" font-weight="normal" font-style="normal" fill="#111" stroke="#111" stroke-width="0.15">PMNs</text>
<text x="29.00" y="325.80" font-size="9.2" text-anchor="middle" font-weight="bold" font-style="normal" fill="#111" transform="rotate(-90 29.00 325.80)" stroke="#111" stroke-width="0.3">% BrdU<tspan font-size="75%" dy="-0.35em">+</tspan></text>
<path d="M156.2,295.1 L157.8,295.8 L159.4,296.6 L161.0,297.3 L162.6,298.2 L164.2,299.0 L165.8,299.9 L167.4,300.7 L169.1,301.6 L170.7,302.6 L172.3,303.5 L173.9,304.5 L175.5,305.5 L177.1,306.5 L178.7,307.5 L180.3,308.4 L181.9,309.5 L183.5,310.5 L185.1,311.5 L186.7,312.4 L188.3,313.4 L189.9,314.2 L191.6,314.9 L193.2,315.7 L194.8,316.4 L196.4,317.0 L198.0,317.6 L199.6,318.2 L201.2,318.8" stroke="#1a1a1a" stroke-width="1.8" fill="none" stroke-linejoin="round" stroke-dasharray="3.6 2.0"/>
<path d="M156.2,295.8 L157.8,297.7 L159.4,299.7 L161.0,301.8 L162.6,303.9 L164.2,306.1 L165.8,308.2 L167.4,310.4 L169.1,312.6 L170.7,314.9 L172.3,317.2 L173.9,319.4 L175.5,321.6 L177.1,323.5 L178.7,325.3 L180.3,326.9 L181.9,328.4 L183.5,329.8 L185.1,331.2 L186.7,332.4 L188.3,333.6 L189.9,334.7 L191.6,335.8 L193.2,336.8 L194.8,337.7 L196.4,338.6 L198.0,339.5 L199.6,340.3 L201.2,341.1" stroke="#111" stroke-width="1.6" fill="none" stroke-linejoin="round"/>
<path d="M156.2,295.8 L157.8,301.4 L159.4,306.5 L161.0,311.0 L162.6,315.1 L164.2,318.7 L165.8,321.9 L167.4,324.8 L169.1,327.4 L170.7,329.7 L172.3,331.7 L173.9,333.6 L175.5,335.4 L177.1,337.0 L178.7,338.6 L180.3,340.1 L181.9,341.5 L183.5,342.8 L185.1,344.0 L186.7,345.1 L188.3,346.1 L189.9,347.1 L191.6,348.0 L193.2,348.8 L194.8,349.6 L196.4,350.3 L198.0,351.0 L199.6,351.6 L201.2,352.2" stroke="#777" stroke-width="1.0" fill="none" stroke-linejoin="round"/>
<path d="M156.2,295.8 L157.8,301.8 L159.4,307.1 L161.0,311.8 L162.6,316.0 L164.2,319.7 L165.8,323.0 L167.4,325.9 L169.1,328.4 L170.7,330.7 L172.3,332.7 L173.9,334.5 L175.5,336.2 L177.1,337.8 L178.7,339.3 L180.3,340.7 L181.9,342.1 L183.5,343.3 L185.1,344.5 L186.7,345.5 L188.3,346.5 L189.9,347.5 L191.6,348.3 L193.2,349.1 L194.8,349.9 L196.4,350.6 L198.0,351.2 L199.6,351.8 L201.2,352.4" stroke="#111" stroke-width="1.6" fill="none" stroke-linejoin="round"/>
<line x1="156.20" y1="296.13" x2="156.20" y2="294.00" stroke="#888" stroke-width="0.8" stroke-linecap="butt"/>
<line x1="154.60" y1="296.13" x2="157.80" y2="296.13" stroke="#888" stroke-width="0.8" stroke-linecap="butt"/>
<line x1="154.60" y1="294.00" x2="157.80" y2="294.00" stroke="#888" stroke-width="0.8" stroke-linecap="butt"/>
<rect x="154.80" y="293.86" width="2.8" height="2.4" fill="#8a8a8a"/>
<line x1="167.45" y1="300.73" x2="167.45" y2="297.90" stroke="#111" stroke-width="0.8" stroke-linecap="butt"/>
<line x1="165.85" y1="300.73" x2="169.05" y2="300.73" stroke="#111" stroke-width="0.8" stroke-linecap="butt"/>
<line x1="165.85" y1="297.90" x2="169.05" y2="297.90" stroke="#111" stroke-width="0.8" stroke-linecap="butt"/>
<rect x="165.95" y="297.81" width="3" height="3" fill="#111"/>
<line x1="167.45" y1="302.14" x2="167.45" y2="299.31" stroke="#111" stroke-width="0.8" stroke-linecap="butt"/>
<line x1="165.85" y1="302.14" x2="169.05" y2="302.14" stroke="#111" stroke-width="0.8" stroke-linecap="butt"/>
<line x1="165.85" y1="299.31" x2="169.05" y2="299.31" stroke="#111" stroke-width="0.8" stroke-linecap="butt"/>
<rect x="166.30" y="299.58" width="2.3" height="2.3" fill="#fff" stroke="#111" stroke-width="0.85"/>
<line x1="167.45" y1="310.99" x2="167.45" y2="308.87" stroke="#111" stroke-width="0.8" stroke-linecap="butt"/>
<line x1="165.85" y1="310.99" x2="169.05" y2="310.99" stroke="#111" stroke-width="0.8" stroke-linecap="butt"/>
<line x1="165.85" y1="308.87" x2="169.05" y2="308.87" stroke="#111" stroke-width="0.8" stroke-linecap="butt"/>
<rect x="165.95" y="308.43" width="3" height="3" fill="#111"/>
<line x1="167.45" y1="318.43" x2="167.45" y2="314.18" stroke="#111" stroke-width="0.8" stroke-linecap="butt"/>
<line x1="165.85" y1="318.43" x2="169.05" y2="318.43" stroke="#111" stroke-width="0.8" stroke-linecap="butt"/>
<line x1="165.85" y1="314.18" x2="169.05" y2="314.18" stroke="#111" stroke-width="0.8" stroke-linecap="butt"/>
<rect x="166.30" y="315.15" width="2.3" height="2.3" fill="#fff" stroke="#111" stroke-width="0.85"/>
<line x1="167.45" y1="326.22" x2="167.45" y2="321.97" stroke="#888" stroke-width="0.8" stroke-linecap="butt"/>
<line x1="165.85" y1="326.22" x2="169.05" y2="326.22" stroke="#888" stroke-width="0.8" stroke-linecap="butt"/>
<line x1="165.85" y1="321.97" x2="169.05" y2="321.97" stroke="#888" stroke-width="0.8" stroke-linecap="butt"/>
<rect x="166.05" y="322.89" width="2.8" height="2.4" fill="#8a8a8a"/>
<line x1="178.70" y1="307.81" x2="178.70" y2="304.98" stroke="#888" stroke-width="0.8" stroke-linecap="butt"/>
<line x1="177.10" y1="307.81" x2="180.30" y2="307.81" stroke="#888" stroke-width="0.8" stroke-linecap="butt"/>
<line x1="177.10" y1="304.98" x2="180.30" y2="304.98" stroke="#888" stroke-width="0.8" stroke-linecap="butt"/>
<rect x="177.30" y="305.19" width="2.8" height="2.4" fill="#8a8a8a"/>
<line x1="178.70" y1="307.81" x2="178.70" y2="302.14" stroke="#111" stroke-width="0.8" stroke-linecap="butt"/>
<line x1="177.10" y1="307.81" x2="180.30" y2="307.81" stroke="#111" stroke-width="0.8" stroke-linecap="butt"/>
<line x1="177.10" y1="302.14" x2="180.30" y2="302.14" stroke="#111" stroke-width="0.8" stroke-linecap="butt"/>
<rect x="177.55" y="303.83" width="2.3" height="2.3" fill="#fff" stroke="#111" stroke-width="0.85"/>
<line x1="178.70" y1="326.57" x2="178.70" y2="323.74" stroke="#111" stroke-width="0.8" stroke-linecap="butt"/>
<line x1="177.10" y1="326.57" x2="180.30" y2="326.57" stroke="#111" stroke-width="0.8" stroke-linecap="butt"/>
<line x1="177.10" y1="323.74" x2="180.30" y2="323.74" stroke="#111" stroke-width="0.8" stroke-linecap="butt"/>
<rect x="177.20" y="323.65" width="3" height="3" fill="#111"/>
<line x1="178.70" y1="344.27" x2="178.70" y2="340.73" stroke="#888" stroke-width="0.8" stroke-linecap="butt"/>
<line x1="177.10" y1="344.27" x2="180.30" y2="344.27" stroke="#888" stroke-width="0.8" stroke-linecap="butt"/>
<line x1="177.10" y1="340.73" x2="180.30" y2="340.73" stroke="#888" stroke-width="0.8" stroke-linecap="butt"/>
<rect x="177.30" y="341.30" width="2.8" height="2.4" fill="#8a8a8a"/>
<line x1="178.70" y1="345.69" x2="178.70" y2="342.15" stroke="#111" stroke-width="0.8" stroke-linecap="butt"/>
<line x1="177.10" y1="345.69" x2="180.30" y2="345.69" stroke="#111" stroke-width="0.8" stroke-linecap="butt"/>
<line x1="177.10" y1="342.15" x2="180.30" y2="342.15" stroke="#111" stroke-width="0.8" stroke-linecap="butt"/>
<rect x="177.55" y="342.77" width="2.3" height="2.3" fill="#fff" stroke="#111" stroke-width="0.85"/>
<line x1="189.95" y1="316.66" x2="189.95" y2="313.12" stroke="#111" stroke-width="0.8" stroke-linecap="butt"/>
<line x1="188.35" y1="316.66" x2="191.55" y2="316.66" stroke="#111" stroke-width="0.8" stroke-linecap="butt"/>
<line x1="188.35" y1="313.12" x2="191.55" y2="313.12" stroke="#111" stroke-width="0.8" stroke-linecap="butt"/>
<rect x="188.45" y="313.39" width="3" height="3" fill="#111"/>
<line x1="189.95" y1="318.43" x2="189.95" y2="314.18" stroke="#888" stroke-width="0.8" stroke-linecap="butt"/>
<line x1="188.35" y1="318.43" x2="191.55" y2="318.43" stroke="#888" stroke-width="0.8" stroke-linecap="butt"/>
<line x1="188.35" y1="314.18" x2="191.55" y2="314.18" stroke="#888" stroke-width="0.8" stroke-linecap="butt"/>
<rect x="188.55" y="315.10" width="2.8" height="2.4" fill="#8a8a8a"/>
<line x1="189.95" y1="334.71" x2="189.95" y2="333.30" stroke="#111" stroke-width="0.8" stroke-linecap="butt"/>
<line x1="188.35" y1="334.71" x2="191.55" y2="334.71" stroke="#111" stroke-width="0.8" stroke-linecap="butt"/>
<line x1="188.35" y1="333.30" x2="191.55" y2="333.30" stroke="#111" stroke-width="0.8" stroke-linecap="butt"/>
<rect x="188.45" y="332.50" width="3" height="3" fill="#111"/>
<line x1="189.95" y1="345.33" x2="189.95" y2="341.08" stroke="#111" stroke-width="0.8" stroke-linecap="butt"/>
<line x1="188.35" y1="345.33" x2="191.55" y2="345.33" stroke="#111" stroke-width="0.8" stroke-linecap="butt"/>
<line x1="188.35" y1="341.08" x2="191.55" y2="341.08" stroke="#111" stroke-width="0.8" stroke-linecap="butt"/>
<rect x="188.80" y="342.06" width="2.3" height="2.3" fill="#fff" stroke="#111" stroke-width="0.85"/>
<line x1="189.95" y1="346.75" x2="189.95" y2="343.92" stroke="#888" stroke-width="0.8" stroke-linecap="butt"/>
<line x1="188.35" y1="346.75" x2="191.55" y2="346.75" stroke="#888" stroke-width="0.8" stroke-linecap="butt"/>
<line x1="188.35" y1="343.92" x2="191.55" y2="343.92" stroke="#888" stroke-width="0.8" stroke-linecap="butt"/>
<rect x="188.55" y="344.13" width="2.8" height="2.4" fill="#8a8a8a"/>
<line x1="150.60" y1="360.80" x2="150.60" y2="286.40" stroke="#111" stroke-width="1.3" stroke-linecap="butt"/>
<line x1="150.00" y1="360.20" x2="201.60" y2="360.20" stroke="#111" stroke-width="1.3" stroke-linecap="butt"/>
<line x1="147.60" y1="360.20" x2="150.60" y2="360.20" stroke="#111" stroke-width="1.0" stroke-linecap="butt"/>
<text x="145.00" y="362.90" font-size="7.5" text-anchor="end" font-weight="normal" font-style="normal" fill="#111" stroke="#111" stroke-width="0.15">0</text>
<line x1="148.80" y1="353.12" x2="150.60" y2="353.12" stroke="#111" stroke-width="0.9" stroke-linecap="butt"/>
<line x1="147.60" y1="346.04" x2="150.60" y2="346.04" stroke="#111" stroke-width="1.0" stroke-linecap="butt"/>
<text x="145.00" y="348.74" font-size="7.5" text-anchor="end" font-weight="normal" font-style="normal" fill="#111" stroke="#111" stroke-width="0.15">20</text>
<line x1="148.80" y1="338.96" x2="150.60" y2="338.96" stroke="#111" stroke-width="0.9" stroke-linecap="butt"/>
<line x1="147.60" y1="331.88" x2="150.60" y2="331.88" stroke="#111" stroke-width="1.0" stroke-linecap="butt"/>
<text x="145.00" y="334.58" font-size="7.5" text-anchor="end" font-weight="normal" font-style="normal" fill="#111" stroke="#111" stroke-width="0.15">40</text>
<line x1="148.80" y1="324.80" x2="150.60" y2="324.80" stroke="#111" stroke-width="0.9" stroke-linecap="butt"/>
<line x1="147.60" y1="317.72" x2="150.60" y2="317.72" stroke="#111" stroke-width="1.0" stroke-linecap="butt"/>
<text x="145.00" y="320.42" font-size="7.5" text-anchor="end" font-weight="normal" font-style="normal" fill="#111" stroke="#111" stroke-width="0.15">60</text>
<line x1="148.80" y1="310.64" x2="150.60" y2="310.64" stroke="#111" stroke-width="0.9" stroke-linecap="butt"/>
<line x1="147.60" y1="303.56" x2="150.60" y2="303.56" stroke="#111" stroke-width="1.0" stroke-linecap="butt"/>
<text x="145.00" y="306.26" font-size="7.5" text-anchor="end" font-weight="normal" font-style="normal" fill="#111" stroke="#111" stroke-width="0.15">80</text>
<line x1="148.80" y1="296.48" x2="150.60" y2="296.48" stroke="#111" stroke-width="0.9" stroke-linecap="butt"/>
<line x1="147.60" y1="289.40" x2="150.60" y2="289.40" stroke="#111" stroke-width="1.0" stroke-linecap="butt"/>
<text x="145.00" y="292.10" font-size="7.5" text-anchor="end" font-weight="normal" font-style="normal" fill="#111" stroke="#111" stroke-width="0.15">100</text>
<line x1="156.20" y1="360.20" x2="156.20" y2="363.40" stroke="#111" stroke-width="1.0" stroke-linecap="butt"/>
<text x="156.20" y="373.40" font-size="8.0" text-anchor="middle" font-weight="normal" font-style="normal" fill="#111" stroke="#111" stroke-width="0.15">2</text>
<line x1="167.45" y1="360.20" x2="167.45" y2="363.40" stroke="#111" stroke-width="1.0" stroke-linecap="butt"/>
<text x="167.45" y="373.40" font-size="8.0" text-anchor="middle" font-weight="normal" font-style="normal" fill="#111" stroke="#111" stroke-width="0.15">3</text>
<line x1="178.70" y1="360.20" x2="178.70" y2="363.40" stroke="#111" stroke-width="1.0" stroke-linecap="butt"/>
<text x="178.70" y="373.40" font-size="8.0" text-anchor="middle" font-weight="normal" font-style="normal" fill="#111" stroke="#111" stroke-width="0.15">4</text>
<line x1="189.95" y1="360.20" x2="189.95" y2="363.40" stroke="#111" stroke-width="1.0" stroke-linecap="butt"/>
<text x="189.95" y="373.40" font-size="8.0" text-anchor="middle" font-weight="normal" font-style="normal" fill="#111" stroke="#111" stroke-width="0.15">5</text>
<text x="176.22" y="384.70" font-size="7.9" text-anchor="middle" font-weight="normal" font-style="normal" fill="#111" stroke="#111" stroke-width="0.15">Time (days)</text>
<text x="176.00" y="281.10" font-size="7.2" text-anchor="middle" font-weight="normal" font-style="normal" fill="#111" stroke="#111" stroke-width="0.15">IMs</text>
<text x="125.50" y="325.80" font-size="9.2" text-anchor="middle" font-weight="bold" font-style="normal" fill="#111" transform="rotate(-90 125.50 325.80)" stroke="#111" stroke-width="0.3">% BrdU<tspan font-size="75%" dy="-0.35em">+</tspan></text>
<line x1="189.60" y1="253.10" x2="197.20" y2="253.10" stroke="#111" stroke-width="1.0" stroke-linecap="butt"/>
<circle cx="193.40" cy="253.10" r="1.9" fill="#111"/>
<text x="200.00" y="255.70" font-size="7.5" text-anchor="start" font-weight="normal" font-style="normal" fill="#111" stroke="#111" stroke-width="0.15">CNV</text>
<line x1="189.60" y1="260.20" x2="197.20" y2="260.20" stroke="#888" stroke-width="0.8" stroke-linecap="butt"/>
<circle cx="193.40" cy="260.20" r="1.5" fill="#888"/>
<text x="200.00" y="262.80" font-size="7.5" text-anchor="start" font-weight="normal" font-style="normal" fill="#111" stroke="#111" stroke-width="0.15">NEO</text>
<line x1="189.60" y1="267.80" x2="197.20" y2="267.80" stroke="#111" stroke-width="1.0" stroke-linecap="butt"/>
<circle cx="193.40" cy="267.80" r="1.5" fill="#fff" stroke="#111" stroke-width="1.0"/>
<text x="200.00" y="270.40" font-size="7.5" text-anchor="start" font-weight="normal" font-style="normal" fill="#111" stroke="#111" stroke-width="0.15"><tspan font-style="italic">Nod1</tspan><tspan font-style="italic" font-size="60%" dy="-0.42em">−/−</tspan></text>
<line x1="189.60" y1="281.50" x2="197.20" y2="281.50" stroke="#111" stroke-width="1.1" stroke-linecap="butt"/>
<text x="200.00" y="284.10" font-size="7.5" text-anchor="start" font-weight="normal" font-style="normal" fill="#111" stroke="#111" stroke-width="0.15">Vehicle</text>
<line x1="189.60" y1="288.40" x2="197.20" y2="288.40" stroke="#111" stroke-width="1.1" stroke-linecap="butt" stroke-dasharray="2.9 1.8"/>
<text x="200.00" y="291.00" font-size="7.5" text-anchor="start" font-weight="normal" font-style="normal" fill="#111" stroke="#111" stroke-width="0.15">Ligand</text>
<text x="242.30" y="230.30" font-size="11.5" text-anchor="start" font-weight="bold" font-style="normal" fill="#111" stroke="#111" stroke-width="0.3">D</text>
<line x1="290.50" y1="341.87" x2="290.50" y2="340.68" stroke="#111" stroke-width="1.0" stroke-linecap="butt"/>
<line x1="288.00" y1="340.68" x2="293.00" y2="340.68" stroke="#111" stroke-width="1.1" stroke-linecap="butt"/>
<line x1="303.55" y1="309.03" x2="303.55" y2="305.70" stroke="#111" stroke-width="1.0" stroke-linecap="butt"/>
<line x1="301.05" y1="305.70" x2="306.05" y2="305.70" stroke="#111" stroke-width="1.1" stroke-linecap="butt"/>
<line x1="316.60" y1="316.88" x2="316.60" y2="313.08" stroke="#111" stroke-width="1.0" stroke-linecap="butt"/>
<line x1="314.10" y1="313.08" x2="319.10" y2="313.08" stroke="#111" stroke-width="1.1" stroke-linecap="butt"/>
<line x1="342.70" y1="349.97" x2="342.70" y2="349.01" stroke="#111" stroke-width="1.0" stroke-linecap="butt"/>
<line x1="340.20" y1="349.01" x2="345.20" y2="349.01" stroke="#111" stroke-width="1.1" stroke-linecap="butt"/>
<line x1="355.75" y1="350.20" x2="355.75" y2="348.06" stroke="#111" stroke-width="1.0" stroke-linecap="butt"/>
<line x1="353.25" y1="348.06" x2="358.25" y2="348.06" stroke="#111" stroke-width="1.1" stroke-linecap="butt"/>
<rect x="286.20" y="341.87" width="8.60" height="18.33" fill="#0a0a0a" stroke="none" stroke-width="1.0"/>
<rect x="299.75" y="309.53" width="7.60" height="50.67" fill="#fff" stroke="#0a0a0a" stroke-width="1.1"/>
<rect x="312.30" y="316.88" width="8.60" height="43.32" fill="#555555" stroke="none" stroke-width="1.0"/>
<rect x="338.40" y="349.97" width="8.60" height="10.23" fill="#0a0a0a" stroke="none" stroke-width="1.0"/>
<rect x="351.45" y="350.20" width="8.60" height="10.00" fill="#555555" stroke="none" stroke-width="1.0"/>
<line x1="283.90" y1="360.20" x2="361.55" y2="360.20" stroke="#111" stroke-width="1.4" stroke-linecap="butt"/>
<line x1="290.50" y1="360.20" x2="290.50" y2="363.60" stroke="#111" stroke-width="1.0" stroke-linecap="butt"/>
<line x1="303.55" y1="360.20" x2="303.55" y2="363.60" stroke="#111" stroke-width="1.0" stroke-linecap="butt"/>
<line x1="316.60" y1="360.20" x2="316.60" y2="363.60" stroke="#111" stroke-width="1.0" stroke-linecap="butt"/>
<line x1="342.70" y1="360.20" x2="342.70" y2="363.60" stroke="#111" stroke-width="1.0" stroke-linecap="butt"/>
<line x1="355.75" y1="360.20" x2="355.75" y2="363.60" stroke="#111" stroke-width="1.0" stroke-linecap="butt"/>
<line x1="329.65" y1="360.20" x2="329.65" y2="363.60" stroke="#111" stroke-width="1.0" stroke-linecap="butt"/>
<line x1="284.50" y1="360.80" x2="284.50" y2="285.60" stroke="#111" stroke-width="1.3" stroke-linecap="butt"/>
<line x1="281.50" y1="360.20" x2="284.50" y2="360.20" stroke="#111" stroke-width="1.0" stroke-linecap="butt"/>
<text x="277.80" y="362.83" font-size="7.3" text-anchor="end" font-weight="normal" font-style="normal" fill="#111" stroke="#111" stroke-width="0.15">0.0</text>
<line x1="282.70" y1="348.30" x2="284.50" y2="348.30" stroke="#111" stroke-width="0.9" stroke-linecap="butt"/>
<line x1="281.50" y1="336.40" x2="284.50" y2="336.40" stroke="#111" stroke-width="1.0" stroke-linecap="butt"/>
<text x="277.80" y="339.03" font-size="7.3" text-anchor="end" font-weight="normal" font-style="normal" fill="#111" stroke="#111" stroke-width="0.15">0.5</text>
<line x1="282.70" y1="324.50" x2="284.50" y2="324.50" stroke="#111" stroke-width="0.9" stroke-linecap="butt"/>
<line x1="281.50" y1="312.60" x2="284.50" y2="312.60" stroke="#111" stroke-width="1.0" stroke-linecap="butt"/>
<text x="277.80" y="315.23" font-size="7.3" text-anchor="end" font-weight="normal" font-style="normal" fill="#111" stroke="#111" stroke-width="0.15">1.0</text>
<line x1="282.70" y1="300.70" x2="284.50" y2="300.70" stroke="#111" stroke-width="0.9" stroke-linecap="butt"/>
<line x1="281.50" y1="288.80" x2="284.50" y2="288.80" stroke="#111" stroke-width="1.0" stroke-linecap="butt"/>
<text x="277.80" y="291.43" font-size="7.3" text-anchor="end" font-weight="normal" font-style="normal" fill="#111" stroke="#111" stroke-width="0.15">1.5</text>
<text x="290.10" y="372.50" font-size="7.8" text-anchor="end" font-weight="normal" font-style="normal" fill="#111" transform="rotate(-45 290.10 372.50)" stroke="#111" stroke-width="0.15">CNV</text>
<text x="303.15" y="372.50" font-size="7.8" text-anchor="end" font-weight="normal" font-style="normal" fill="#111" transform="rotate(-45 303.15 372.50)" stroke="#111" stroke-width="0.15"><tspan font-style="italic">Nod1</tspan><tspan font-style="italic" font-size="60%" dy="-0.42em">−/−</tspan></text>
<text x="316.20" y="372.50" font-size="7.8" text-anchor="end" font-weight="normal" font-style="normal" fill="#111" transform="rotate(-45 316.20 372.50)" stroke="#111" stroke-width="0.15">NEO</text>
<text x="342.30" y="372.50" font-size="7.8" text-anchor="end" font-weight="normal" font-style="normal" fill="#111" transform="rotate(-45 342.30 372.50)" stroke="#111" stroke-width="0.15">CNV + ligand</text>
<text x="355.35" y="372.50" font-size="7.8" text-anchor="end" font-weight="normal" font-style="normal" fill="#111" transform="rotate(-45 355.35 372.50)" stroke="#111" stroke-width="0.15">NEO + ligand</text>
<text x="261.70" y="325.00" font-size="9.0" text-anchor="middle" font-weight="bold" font-style="normal" fill="#111" transform="rotate(-90 261.70 325.00)" stroke="#111" stroke-width="0.3">Decay constant (<tspan font-style="italic">k</tspan>)</text>
<text x="325.70" y="242.40" font-size="9.5" text-anchor="middle" font-weight="bold" font-style="normal" fill="#111" stroke="#111" stroke-width="0.3">PMNs</text>
<path d="M290.50,255.80 L290.50,252.60 L355.75,252.60 L355.75,255.80" stroke="#111" stroke-width="1.25" fill="none" stroke-linejoin="miter"/>
<text x="323.12" y="254.00" font-size="8.2" text-anchor="middle" font-weight="bold" font-style="normal" fill="#111" letter-spacing="0.25" stroke="#111" stroke-width="0.3">***</text>
<path d="M290.50,263.40 L290.50,260.20 L342.70,260.20 L342.70,263.40" stroke="#111" stroke-width="1.25" fill="none" stroke-linejoin="miter"/>
<text x="316.60" y="261.60" font-size="8.2" text-anchor="middle" font-weight="bold" font-style="normal" fill="#111" letter-spacing="0.25" stroke="#111" stroke-width="0.3">**</text>
<path d="M290.50,271.00 L290.50,267.80 L316.60,267.80 L316.60,271.00" stroke="#111" stroke-width="1.25" fill="none" stroke-linejoin="miter"/>
<text x="303.55" y="269.20" font-size="8.2" text-anchor="middle" font-weight="bold" font-style="normal" fill="#111" letter-spacing="0.25" stroke="#111" stroke-width="0.3">***</text>
<path d="M290.50,278.20 L290.50,275.00 L303.55,275.00 L303.55,278.20" stroke="#111" stroke-width="1.25" fill="none" stroke-linejoin="miter"/>
<text x="297.02" y="276.40" font-size="8.2" text-anchor="middle" font-weight="bold" font-style="normal" fill="#111" letter-spacing="0.25" stroke="#111" stroke-width="0.3">***</text>
<path d="M303.55,286.00 L303.55,282.80 L316.60,282.80 L316.60,286.00" stroke="#111" stroke-width="1.25" fill="none" stroke-linejoin="miter"/>
<text x="310.08" y="279.70" font-size="7.2" text-anchor="middle" font-weight="normal" font-style="normal" fill="#111" stroke="#111" stroke-width="0.25">NS</text>
<path d="M342.70,286.00 L342.70,282.80 L355.75,282.80 L355.75,286.00" stroke="#111" stroke-width="1.25" fill="none" stroke-linejoin="miter"/>
<text x="349.23" y="279.70" font-size="7.2" text-anchor="middle" font-weight="normal" font-style="normal" fill="#111" stroke="#111" stroke-width="0.25">NS</text>
<line x1="409.20" y1="332.71" x2="409.20" y2="331.64" stroke="#111" stroke-width="1.0" stroke-linecap="butt"/>
<line x1="406.70" y1="331.64" x2="411.70" y2="331.64" stroke="#111" stroke-width="1.1" stroke-linecap="butt"/>
<line x1="422.25" y1="312.45" x2="422.25" y2="308.88" stroke="#111" stroke-width="1.0" stroke-linecap="butt"/>
<line x1="419.75" y1="308.88" x2="424.75" y2="308.88" stroke="#111" stroke-width="1.1" stroke-linecap="butt"/>
<line x1="435.30" y1="310.40" x2="435.30" y2="306.38" stroke="#111" stroke-width="1.0" stroke-linecap="butt"/>
<line x1="432.80" y1="306.38" x2="437.80" y2="306.38" stroke="#111" stroke-width="1.1" stroke-linecap="butt"/>
<line x1="461.40" y1="349.94" x2="461.40" y2="348.87" stroke="#111" stroke-width="1.0" stroke-linecap="butt"/>
<line x1="458.90" y1="348.87" x2="463.90" y2="348.87" stroke="#111" stroke-width="1.1" stroke-linecap="butt"/>
<line x1="474.45" y1="351.27" x2="474.45" y2="349.31" stroke="#111" stroke-width="1.0" stroke-linecap="butt"/>
<line x1="471.95" y1="349.31" x2="476.95" y2="349.31" stroke="#111" stroke-width="1.1" stroke-linecap="butt"/>
<rect x="404.90" y="332.71" width="8.60" height="27.49" fill="#0a0a0a" stroke="none" stroke-width="1.0"/>
<rect x="418.45" y="312.95" width="7.60" height="47.25" fill="#fff" stroke="#0a0a0a" stroke-width="1.1"/>
<rect x="431.00" y="310.40" width="8.60" height="49.80" fill="#555555" stroke="none" stroke-width="1.0"/>
<rect x="457.10" y="349.94" width="8.60" height="10.26" fill="#0a0a0a" stroke="none" stroke-width="1.0"/>
<rect x="470.15" y="351.27" width="8.60" height="8.93" fill="#555555" stroke="none" stroke-width="1.0"/>
<line x1="402.60" y1="360.20" x2="480.25" y2="360.20" stroke="#111" stroke-width="1.4" stroke-linecap="butt"/>
<line x1="409.20" y1="360.20" x2="409.20" y2="363.60" stroke="#111" stroke-width="1.0" stroke-linecap="butt"/>
<line x1="422.25" y1="360.20" x2="422.25" y2="363.60" stroke="#111" stroke-width="1.0" stroke-linecap="butt"/>
<line x1="435.30" y1="360.20" x2="435.30" y2="363.60" stroke="#111" stroke-width="1.0" stroke-linecap="butt"/>
<line x1="461.40" y1="360.20" x2="461.40" y2="363.60" stroke="#111" stroke-width="1.0" stroke-linecap="butt"/>
<line x1="474.45" y1="360.20" x2="474.45" y2="363.60" stroke="#111" stroke-width="1.0" stroke-linecap="butt"/>
<line x1="448.35" y1="360.20" x2="448.35" y2="363.60" stroke="#111" stroke-width="1.0" stroke-linecap="butt"/>
<line x1="403.20" y1="360.80" x2="403.20" y2="285.60" stroke="#111" stroke-width="1.3" stroke-linecap="butt"/>
<line x1="400.20" y1="360.20" x2="403.20" y2="360.20" stroke="#111" stroke-width="1.0" stroke-linecap="butt"/>
<text x="396.20" y="362.83" font-size="7.3" text-anchor="end" font-weight="normal" font-style="normal" fill="#111" stroke="#111" stroke-width="0.15">0.0</text>
<line x1="401.40" y1="351.27" x2="403.20" y2="351.27" stroke="#111" stroke-width="0.9" stroke-linecap="butt"/>
<line x1="400.20" y1="342.35" x2="403.20" y2="342.35" stroke="#111" stroke-width="1.0" stroke-linecap="butt"/>
<text x="396.20" y="344.98" font-size="7.3" text-anchor="end" font-weight="normal" font-style="normal" fill="#111" stroke="#111" stroke-width="0.15">0.2</text>
<line x1="401.40" y1="333.42" x2="403.20" y2="333.42" stroke="#111" stroke-width="0.9" stroke-linecap="butt"/>
<line x1="400.20" y1="324.50" x2="403.20" y2="324.50" stroke="#111" stroke-width="1.0" stroke-linecap="butt"/>
<text x="396.20" y="327.13" font-size="7.3" text-anchor="end" font-weight="normal" font-style="normal" fill="#111" stroke="#111" stroke-width="0.15">0.4</text>
<line x1="401.40" y1="315.57" x2="403.20" y2="315.57" stroke="#111" stroke-width="0.9" stroke-linecap="butt"/>
<line x1="400.20" y1="306.65" x2="403.20" y2="306.65" stroke="#111" stroke-width="1.0" stroke-linecap="butt"/>
<text x="396.20" y="309.28" font-size="7.3" text-anchor="end" font-weight="normal" font-style="normal" fill="#111" stroke="#111" stroke-width="0.15">0.6</text>
<line x1="401.40" y1="297.72" x2="403.20" y2="297.72" stroke="#111" stroke-width="0.9" stroke-linecap="butt"/>
<line x1="400.20" y1="288.80" x2="403.20" y2="288.80" stroke="#111" stroke-width="1.0" stroke-linecap="butt"/>
<text x="396.20" y="291.43" font-size="7.3" text-anchor="end" font-weight="normal" font-style="normal" fill="#111" stroke="#111" stroke-width="0.15">0.8</text>
<text x="408.80" y="372.50" font-size="7.8" text-anchor="end" font-weight="normal" font-style="normal" fill="#111" transform="rotate(-45 408.80 372.50)" stroke="#111" stroke-width="0.15">CNV</text>
<text x="421.85" y="372.50" font-size="7.8" text-anchor="end" font-weight="normal" font-style="normal" fill="#111" transform="rotate(-45 421.85 372.50)" stroke="#111" stroke-width="0.15"><tspan font-style="italic">Nod1</tspan><tspan font-style="italic" font-size="60%" dy="-0.42em">−/−</tspan></text>
<text x="434.90" y="372.50" font-size="7.8" text-anchor="end" font-weight="normal" font-style="normal" fill="#111" transform="rotate(-45 434.90 372.50)" stroke="#111" stroke-width="0.15">NEO</text>
<text x="461.00" y="372.50" font-size="7.8" text-anchor="end" font-weight="normal" font-style="normal" fill="#111" transform="rotate(-45 461.00 372.50)" stroke="#111" stroke-width="0.15">CNV + ligand</text>
<text x="474.05" y="372.50" font-size="7.8" text-anchor="end" font-weight="normal" font-style="normal" fill="#111" transform="rotate(-45 474.05 372.50)" stroke="#111" stroke-width="0.15">NEO + ligand</text>
<text x="380.30" y="325.00" font-size="9.0" text-anchor="middle" font-weight="bold" font-style="normal" fill="#111" transform="rotate(-90 380.30 325.00)" stroke="#111" stroke-width="0.3">Decay constant (<tspan font-style="italic">k</tspan>)</text>
<text x="444.00" y="242.40" font-size="9.5" text-anchor="middle" font-weight="bold" font-style="normal" fill="#111" stroke="#111" stroke-width="0.3">IMs</text>
<path d="M409.20,255.80 L409.20,252.60 L474.45,252.60 L474.45,255.80" stroke="#111" stroke-width="1.25" fill="none" stroke-linejoin="miter"/>
<text x="441.82" y="254.00" font-size="8.2" text-anchor="middle" font-weight="bold" font-style="normal" fill="#111" letter-spacing="0.25" stroke="#111" stroke-width="0.3">***</text>
<path d="M409.20,263.40 L409.20,260.20 L461.40,260.20 L461.40,263.40" stroke="#111" stroke-width="1.25" fill="none" stroke-linejoin="miter"/>
<text x="435.30" y="261.60" font-size="8.2" text-anchor="middle" font-weight="bold" font-style="normal" fill="#111" letter-spacing="0.25" stroke="#111" stroke-width="0.3">**</text>
<path d="M409.20,271.00 L409.20,267.80 L435.30,267.80 L435.30,271.00" stroke="#111" stroke-width="1.25" fill="none" stroke-linejoin="miter"/>
<text x="422.25" y="269.20" font-size="8.2" text-anchor="middle" font-weight="bold" font-style="normal" fill="#111" letter-spacing="0.25" stroke="#111" stroke-width="0.3">***</text>
<path d="M409.20,278.20 L409.20,275.00 L422.25,275.00 L422.25,278.20" stroke="#111" stroke-width="1.25" fill="none" stroke-linejoin="miter"/>
<text x="415.73" y="276.40" font-size="8.2" text-anchor="middle" font-weight="bold" font-style="normal" fill="#111" letter-spacing="0.25" stroke="#111" stroke-width="0.3">***</text>
<path d="M422.25,286.00 L422.25,282.80 L435.30,282.80 L435.30,286.00" stroke="#111" stroke-width="1.25" fill="none" stroke-linejoin="miter"/>
<text x="428.77" y="279.70" font-size="7.2" text-anchor="middle" font-weight="normal" font-style="normal" fill="#111" stroke="#111" stroke-width="0.25">NS</text>
<path d="M461.40,286.00 L461.40,282.80 L474.45,282.80 L474.45,286.00" stroke="#111" stroke-width="1.25" fill="none" stroke-linejoin="miter"/>
<text x="467.92" y="279.70" font-size="7.2" text-anchor="middle" font-weight="normal" font-style="normal" fill="#111" stroke="#111" stroke-width="0.25">NS</text>
<text x="7.00" y="431.20" font-size="11.5" text-anchor="start" font-weight="bold" font-style="normal" fill="#111" stroke="#111" stroke-width="0.3">E</text>
<text x="95.80" y="445.00" font-size="9.55" text-anchor="middle" font-weight="bold" font-style="normal" fill="#111" stroke="#111" stroke-width="0.3">Competitive neutrophil transfer</text>
<text x="57.00" y="473.40" font-size="7.5" text-anchor="middle" font-weight="normal" font-style="normal" fill="#111" stroke="#111" stroke-width="0.15">WT PMNs</text>
<text x="57.00" y="482.30" font-size="7.5" text-anchor="middle" font-weight="normal" font-style="normal" fill="#111" stroke="#111" stroke-width="0.15">dye #1</text>
<text x="57.00" y="516.40" font-size="7.5" text-anchor="middle" font-weight="normal" font-style="normal" fill="#111" stroke="#111" stroke-width="0.15">~50/50 mix</text>
<text x="57.00" y="551.80" font-size="7.5" text-anchor="middle" font-weight="normal" font-style="normal" fill="#111" stroke="#111" stroke-width="0.15"><tspan font-style="italic">Nod1</tspan><tspan font-style="italic" font-size="60%" dy="-0.42em">−/−</tspan><tspan dy="0.25em"> PMNs</tspan></text>
<text x="57.00" y="560.80" font-size="7.5" text-anchor="middle" font-weight="normal" font-style="normal" fill="#111" stroke="#111" stroke-width="0.15">dye #2</text>
<line x1="56.50" y1="486.60" x2="56.50" y2="500.60" stroke="#111" stroke-width="1.4" stroke-linecap="butt"/>
<polygon points="56.50,505.80 52.60,499.00 56.50,500.60 60.40,499.00" fill="#111"/>
<line x1="56.50" y1="540.60" x2="56.50" y2="526.20" stroke="#111" stroke-width="1.4" stroke-linecap="butt"/>
<polygon points="56.50,521.00 60.40,527.80 56.50,526.20 52.60,527.80" fill="#111"/>
<line x1="82.00" y1="512.80" x2="119.60" y2="512.80" stroke="#111" stroke-width="1.4" stroke-linecap="butt"/>
<polygon points="124.80,512.80 118.00,516.70 119.60,512.80 118.00,508.90" fill="#111"/>
<text x="100.20" y="510.30" font-size="7.5" text-anchor="middle" font-weight="normal" font-style="normal" fill="#111" stroke="#111" stroke-width="0.15">Adoptive</text>
<text x="100.20" y="521.20" font-size="7.5" text-anchor="middle" font-weight="normal" font-style="normal" fill="#111" stroke="#111" stroke-width="0.15">Transfer</text>
<text x="142.40" y="501.80" font-size="7.5" text-anchor="middle" font-weight="normal" font-style="normal" fill="#111" stroke="#111" stroke-width="0.15">Collect</text>
<text x="142.40" y="510.70" font-size="7.5" text-anchor="middle" font-weight="normal" font-style="normal" fill="#111" stroke="#111" stroke-width="0.15">peripheral</text>
<text x="142.40" y="519.60" font-size="7.5" text-anchor="middle" font-weight="normal" font-style="normal" fill="#111" stroke="#111" stroke-width="0.15">blood</text>
<text x="142.40" y="528.50" font-size="7.5" text-anchor="middle" font-weight="normal" font-style="normal" fill="#111" stroke="#111" stroke-width="0.15">at 4 hours</text>
<text x="188.00" y="431.80" font-size="11.5" text-anchor="start" font-weight="bold" font-style="normal" fill="#111" stroke="#111" stroke-width="0.3">F</text>
<text x="280.40" y="444.60" font-size="9.5" text-anchor="middle" font-weight="bold" font-style="normal" fill="#111" stroke="#111" stroke-width="0.3">Standard transfer</text>
<line x1="251.30" y1="483.39" x2="271.00" y2="506.10" stroke="#111" stroke-width="1.5" stroke-linecap="butt"/>
<circle cx="251.30" cy="483.39" r="1.9" fill="#0a0a0a"/>
<circle cx="271.00" cy="506.10" r="1.9" fill="#0a0a0a"/>
<line x1="251.30" y1="485.78" x2="271.00" y2="521.63" stroke="#111" stroke-width="1.5" stroke-linecap="butt"/>
<circle cx="251.30" cy="485.78" r="1.9" fill="#0a0a0a"/>
<circle cx="271.00" cy="521.63" r="1.9" fill="#0a0a0a"/>
<line x1="251.30" y1="495.34" x2="271.00" y2="514.46" stroke="#111" stroke-width="1.5" stroke-linecap="butt"/>
<circle cx="251.30" cy="495.34" r="1.9" fill="#0a0a0a"/>
<circle cx="271.00" cy="514.46" r="1.9" fill="#0a0a0a"/>
<line x1="290.80" y1="483.39" x2="310.50" y2="504.90" stroke="#111" stroke-width="1.5" stroke-linecap="butt" stroke-dasharray="2.8 1.6"/>
<circle cx="290.80" cy="483.39" r="1.6" fill="#fff" stroke="#111" stroke-width="1.2"/>
<circle cx="310.50" cy="504.90" r="1.6" fill="#fff" stroke="#111" stroke-width="1.2"/>
<line x1="290.80" y1="486.98" x2="310.50" y2="508.49" stroke="#111" stroke-width="1.5" stroke-linecap="butt" stroke-dasharray="2.8 1.6"/>
<circle cx="290.80" cy="486.98" r="1.6" fill="#fff" stroke="#111" stroke-width="1.2"/>
<circle cx="310.50" cy="508.49" r="1.6" fill="#fff" stroke="#111" stroke-width="1.2"/>
<line x1="290.80" y1="495.34" x2="310.50" y2="524.02" stroke="#111" stroke-width="1.5" stroke-linecap="butt" stroke-dasharray="2.8 1.6"/>
<circle cx="290.80" cy="495.34" r="1.6" fill="#fff" stroke="#111" stroke-width="1.2"/>
<circle cx="310.50" cy="524.02" r="1.6" fill="#fff" stroke="#111" stroke-width="1.2"/>
<line x1="240.30" y1="553.30" x2="240.30" y2="478.00" stroke="#111" stroke-width="1.3" stroke-linecap="butt"/>
<line x1="239.70" y1="552.70" x2="320.00" y2="552.70" stroke="#111" stroke-width="1.4" stroke-linecap="butt"/>
<line x1="237.10" y1="552.70" x2="240.30" y2="552.70" stroke="#111" stroke-width="1.0" stroke-linecap="butt"/>
<text x="234.20" y="555.70" font-size="7.4" text-anchor="end" font-weight="normal" font-style="normal" fill="#111" stroke="#111" stroke-width="0.15">0</text>
<line x1="237.10" y1="540.75" x2="240.30" y2="540.75" stroke="#111" stroke-width="1.0" stroke-linecap="butt"/>
<text x="234.20" y="543.75" font-size="7.4" text-anchor="end" font-weight="normal" font-style="normal" fill="#111" stroke="#111" stroke-width="0.15">10</text>
<line x1="237.10" y1="528.80" x2="240.30" y2="528.80" stroke="#111" stroke-width="1.0" stroke-linecap="butt"/>
<text x="234.20" y="531.80" font-size="7.4" text-anchor="end" font-weight="normal" font-style="normal" fill="#111" stroke="#111" stroke-width="0.15">20</text>
<line x1="237.10" y1="516.85" x2="240.30" y2="516.85" stroke="#111" stroke-width="1.0" stroke-linecap="butt"/>
<text x="234.20" y="519.85" font-size="7.4" text-anchor="end" font-weight="normal" font-style="normal" fill="#111" stroke="#111" stroke-width="0.15">30</text>
<line x1="237.10" y1="504.90" x2="240.30" y2="504.90" stroke="#111" stroke-width="1.0" stroke-linecap="butt"/>
<text x="234.20" y="507.90" font-size="7.4" text-anchor="end" font-weight="normal" font-style="normal" fill="#111" stroke="#111" stroke-width="0.15">40</text>
<line x1="237.10" y1="492.95" x2="240.30" y2="492.95" stroke="#111" stroke-width="1.0" stroke-linecap="butt"/>
<text x="234.20" y="495.95" font-size="7.4" text-anchor="end" font-weight="normal" font-style="normal" fill="#111" stroke="#111" stroke-width="0.15">50</text>
<line x1="237.10" y1="481.00" x2="240.30" y2="481.00" stroke="#111" stroke-width="1.0" stroke-linecap="butt"/>
<text x="234.20" y="484.00" font-size="7.4" text-anchor="end" font-weight="normal" font-style="normal" fill="#111" stroke="#111" stroke-width="0.15">60</text>
<line x1="251.30" y1="552.70" x2="251.30" y2="556.10" stroke="#111" stroke-width="1.0" stroke-linecap="butt"/>
<text x="251.10" y="563.90" font-size="7.8" text-anchor="end" font-weight="normal" font-style="normal" fill="#111" transform="rotate(-45 251.10 563.90)" stroke="#111" stroke-width="0.15">Input</text>
<line x1="271.00" y1="552.70" x2="271.00" y2="556.10" stroke="#111" stroke-width="1.0" stroke-linecap="butt"/>
<text x="270.80" y="563.90" font-size="7.8" text-anchor="end" font-weight="normal" font-style="normal" fill="#111" transform="rotate(-45 270.80 563.90)" stroke="#111" stroke-width="0.15">4 hours</text>
<line x1="290.80" y1="552.70" x2="290.80" y2="556.10" stroke="#111" stroke-width="1.0" stroke-linecap="butt"/>
<text x="290.60" y="563.90" font-size="7.8" text-anchor="end" font-weight="normal" font-style="normal" fill="#111" transform="rotate(-45 290.60 563.90)" stroke="#111" stroke-width="0.15">Input</text>
<line x1="310.50" y1="552.70" x2="310.50" y2="556.10" stroke="#111" stroke-width="1.0" stroke-linecap="butt"/>
<text x="310.30" y="563.90" font-size="7.8" text-anchor="end" font-weight="normal" font-style="normal" fill="#111" transform="rotate(-45 310.30 563.90)" stroke="#111" stroke-width="0.15">4 hours</text>
<text x="261.25" y="456.40" font-size="7.5" text-anchor="middle" font-weight="normal" font-style="normal" fill="#111" stroke="#111" stroke-width="0.15">WT</text>
<text x="261.05" y="466.30" font-size="7.4" text-anchor="middle" font-weight="normal" font-style="normal" fill="#111" stroke="#111" stroke-width="0.15">recipients</text>
<text x="301.05" y="456.40" font-size="7.5" text-anchor="middle" font-weight="normal" font-style="normal" fill="#111" stroke="#111" stroke-width="0.15"><tspan font-style="italic">Nod1</tspan><tspan font-style="italic" font-size="60%" dy="-0.42em">−/−</tspan></text>
<text x="301.05" y="466.30" font-size="7.4" text-anchor="middle" font-weight="normal" font-style="normal" fill="#111" stroke="#111" stroke-width="0.15">recipients</text>
<path d="M251.30,477.30 L251.30,474.10 L271.00,474.10 L271.00,477.30" stroke="#111" stroke-width="1.25" fill="none" stroke-linejoin="miter"/>
<text x="261.15" y="474.90" font-size="8.2" text-anchor="middle" font-weight="bold" font-style="normal" fill="#111" letter-spacing="0.25" stroke="#111" stroke-width="0.3">**</text>
<path d="M290.80,477.30 L290.80,474.10 L310.50,474.10 L310.50,477.30" stroke="#111" stroke-width="1.25" fill="none" stroke-linejoin="miter"/>
<text x="300.65" y="474.90" font-size="8.2" text-anchor="middle" font-weight="bold" font-style="normal" fill="#111" letter-spacing="0.25" stroke="#111" stroke-width="0.3">*</text>
<text x="320.20" y="539.40" font-size="7.85" text-anchor="end" font-weight="normal" font-style="normal" fill="#111" stroke="#111" stroke-width="0.15">WT: eF450</text>
<text x="320.20" y="548.20" font-size="7.85" text-anchor="end" font-weight="normal" font-style="normal" fill="#111" stroke="#111" stroke-width="0.15"><tspan font-style="italic">Nod1</tspan><tspan font-style="italic" font-size="60%" dy="-0.42em">−/−</tspan><tspan dy="0.25em">: CFSE</tspan></text>
<text x="209.30" y="517.05" font-size="9.6" text-anchor="middle" font-weight="bold" font-style="normal" fill="#111" transform="rotate(-90 209.30 517.05)" stroke="#111" stroke-width="0.3">Fraction <tspan font-style="italic">Nod1</tspan><tspan font-style="italic" font-size="60%" dy="-0.42em">−/−</tspan><tspan dy="0.25em"> of</tspan></text>
<text x="220.30" y="517.05" font-size="9.6" text-anchor="middle" font-weight="bold" font-style="normal" fill="#111" transform="rotate(-90 220.30 517.05)" stroke="#111" stroke-width="0.3">labeled PMNs (%)</text>
<text x="341.30" y="431.80" font-size="11.5" text-anchor="start" font-weight="bold" font-style="normal" fill="#111" stroke="#111" stroke-width="0.3">G</text>
<text x="435.20" y="444.60" font-size="9.5" text-anchor="middle" font-weight="bold" font-style="normal" fill="#111" stroke="#111" stroke-width="0.3">Dye-switch transfer</text>
<line x1="405.80" y1="491.76" x2="425.50" y2="533.58" stroke="#111" stroke-width="1.5" stroke-linecap="butt"/>
<circle cx="405.80" cy="491.76" r="1.9" fill="#0a0a0a"/>
<circle cx="425.50" cy="533.58" r="1.9" fill="#0a0a0a"/>
<line x1="405.80" y1="494.15" x2="425.50" y2="518.05" stroke="#111" stroke-width="1.5" stroke-linecap="butt"/>
<circle cx="405.80" cy="494.15" r="1.9" fill="#0a0a0a"/>
<circle cx="425.50" cy="518.05" r="1.9" fill="#0a0a0a"/>
<line x1="445.30" y1="491.76" x2="465.00" y2="521.63" stroke="#111" stroke-width="1.5" stroke-linecap="butt" stroke-dasharray="2.8 1.6"/>
<circle cx="445.30" cy="491.76" r="1.6" fill="#fff" stroke="#111" stroke-width="1.2"/>
<circle cx="465.00" cy="521.63" r="1.6" fill="#fff" stroke="#111" stroke-width="1.2"/>
<line x1="445.30" y1="494.15" x2="465.00" y2="532.38" stroke="#111" stroke-width="1.5" stroke-linecap="butt" stroke-dasharray="2.8 1.6"/>
<circle cx="445.30" cy="494.15" r="1.6" fill="#fff" stroke="#111" stroke-width="1.2"/>
<circle cx="465.00" cy="532.38" r="1.6" fill="#fff" stroke="#111" stroke-width="1.2"/>
<line x1="394.80" y1="553.30" x2="394.80" y2="478.00" stroke="#111" stroke-width="1.3" stroke-linecap="butt"/>
<line x1="394.20" y1="552.70" x2="474.50" y2="552.70" stroke="#111" stroke-width="1.4" stroke-linecap="butt"/>
<line x1="391.60" y1="552.70" x2="394.80" y2="552.70" stroke="#111" stroke-width="1.0" stroke-linecap="butt"/>
<text x="388.70" y="555.70" font-size="7.4" text-anchor="end" font-weight="normal" font-style="normal" fill="#111" stroke="#111" stroke-width="0.15">0</text>
<line x1="391.60" y1="540.75" x2="394.80" y2="540.75" stroke="#111" stroke-width="1.0" stroke-linecap="butt"/>
<text x="388.70" y="543.75" font-size="7.4" text-anchor="end" font-weight="normal" font-style="normal" fill="#111" stroke="#111" stroke-width="0.15">10</text>
<line x1="391.60" y1="528.80" x2="394.80" y2="528.80" stroke="#111" stroke-width="1.0" stroke-linecap="butt"/>
<text x="388.70" y="531.80" font-size="7.4" text-anchor="end" font-weight="normal" font-style="normal" fill="#111" stroke="#111" stroke-width="0.15">20</text>
<line x1="391.60" y1="516.85" x2="394.80" y2="516.85" stroke="#111" stroke-width="1.0" stroke-linecap="butt"/>
<text x="388.70" y="519.85" font-size="7.4" text-anchor="end" font-weight="normal" font-style="normal" fill="#111" stroke="#111" stroke-width="0.15">30</text>
<line x1="391.60" y1="504.90" x2="394.80" y2="504.90" stroke="#111" stroke-width="1.0" stroke-linecap="butt"/>
<text x="388.70" y="507.90" font-size="7.4" text-anchor="end" font-weight="normal" font-style="normal" fill="#111" stroke="#111" stroke-width="0.15">40</text>
<line x1="391.60" y1="492.95" x2="394.80" y2="492.95" stroke="#111" stroke-width="1.0" stroke-linecap="butt"/>
<text x="388.70" y="495.95" font-size="7.4" text-anchor="end" font-weight="normal" font-style="normal" fill="#111" stroke="#111" stroke-width="0.15">50</text>
<line x1="391.60" y1="481.00" x2="394.80" y2="481.00" stroke="#111" stroke-width="1.0" stroke-linecap="butt"/>
<text x="388.70" y="484.00" font-size="7.4" text-anchor="end" font-weight="normal" font-style="normal" fill="#111" stroke="#111" stroke-width="0.15">60</text>
<line x1="405.80" y1="552.70" x2="405.80" y2="556.10" stroke="#111" stroke-width="1.0" stroke-linecap="butt"/>
<text x="405.60" y="563.90" font-size="7.8" text-anchor="end" font-weight="normal" font-style="normal" fill="#111" transform="rotate(-45 405.60 563.90)" stroke="#111" stroke-width="0.15">Input</text>
<line x1="425.50" y1="552.70" x2="425.50" y2="556.10" stroke="#111" stroke-width="1.0" stroke-linecap="butt"/>
<text x="425.30" y="563.90" font-size="7.8" text-anchor="end" font-weight="normal" font-style="normal" fill="#111" transform="rotate(-45 425.30 563.90)" stroke="#111" stroke-width="0.15">4 hours</text>
<line x1="445.30" y1="552.70" x2="445.30" y2="556.10" stroke="#111" stroke-width="1.0" stroke-linecap="butt"/>
<text x="445.10" y="563.90" font-size="7.8" text-anchor="end" font-weight="normal" font-style="normal" fill="#111" transform="rotate(-45 445.10 563.90)" stroke="#111" stroke-width="0.15">Input</text>
<line x1="465.00" y1="552.70" x2="465.00" y2="556.10" stroke="#111" stroke-width="1.0" stroke-linecap="butt"/>
<text x="464.80" y="563.90" font-size="7.8" text-anchor="end" font-weight="normal" font-style="normal" fill="#111" transform="rotate(-45 464.80 563.90)" stroke="#111" stroke-width="0.15">4 hours</text>
<text x="415.75" y="456.40" font-size="7.5" text-anchor="middle" font-weight="normal" font-style="normal" fill="#111" stroke="#111" stroke-width="0.15">WT</text>
<text x="415.55" y="466.30" font-size="7.4" text-anchor="middle" font-weight="normal" font-style="normal" fill="#111" stroke="#111" stroke-width="0.15">recipients</text>
<text x="455.55" y="456.40" font-size="7.5" text-anchor="middle" font-weight="normal" font-style="normal" fill="#111" stroke="#111" stroke-width="0.15"><tspan font-style="italic">Nod1</tspan><tspan font-style="italic" font-size="60%" dy="-0.42em">−/−</tspan></text>
<text x="455.55" y="466.30" font-size="7.4" text-anchor="middle" font-weight="normal" font-style="normal" fill="#111" stroke="#111" stroke-width="0.15">recipients</text>
<path d="M405.80,477.30 L405.80,474.10 L425.50,474.10 L425.50,477.30" stroke="#111" stroke-width="1.25" fill="none" stroke-linejoin="miter"/>
<text x="415.65" y="474.90" font-size="8.2" text-anchor="middle" font-weight="bold" font-style="normal" fill="#111" letter-spacing="0.25" stroke="#111" stroke-width="0.3">**</text>
<path d="M445.30,477.30 L445.30,474.10 L465.00,474.10 L465.00,477.30" stroke="#111" stroke-width="1.25" fill="none" stroke-linejoin="miter"/>
<text x="455.15" y="474.90" font-size="8.2" text-anchor="middle" font-weight="bold" font-style="normal" fill="#111" letter-spacing="0.25" stroke="#111" stroke-width="0.3">*</text>
<text x="473.40" y="539.40" font-size="7.85" text-anchor="end" font-weight="normal" font-style="normal" fill="#111" stroke="#111" stroke-width="0.15">WT: CFSE</text>
<text x="473.40" y="548.20" font-size="7.85" text-anchor="end" font-weight="normal" font-style="normal" fill="#111" stroke="#111" stroke-width="0.15"><tspan font-style="italic">Nod1</tspan><tspan font-style="italic" font-size="60%" dy="-0.42em">−/−</tspan><tspan dy="0.25em">: eF450</tspan></text>
<text x="364.70" y="517.05" font-size="9.6" text-anchor="middle" font-weight="bold" font-style="normal" fill="#111" transform="rotate(-90 364.70 517.05)" stroke="#111" stroke-width="0.3">Fraction <tspan font-style="italic">Nod1</tspan><tspan font-style="italic" font-size="60%" dy="-0.42em">−/−</tspan><tspan dy="0.25em"> of</tspan></text>
<text x="375.70" y="517.05" font-size="9.6" text-anchor="middle" font-weight="bold" font-style="normal" fill="#111" transform="rotate(-90 375.70 517.05)" stroke="#111" stroke-width="0.3">labeled PMNs (%)</text>
</svg>
</body></html>
